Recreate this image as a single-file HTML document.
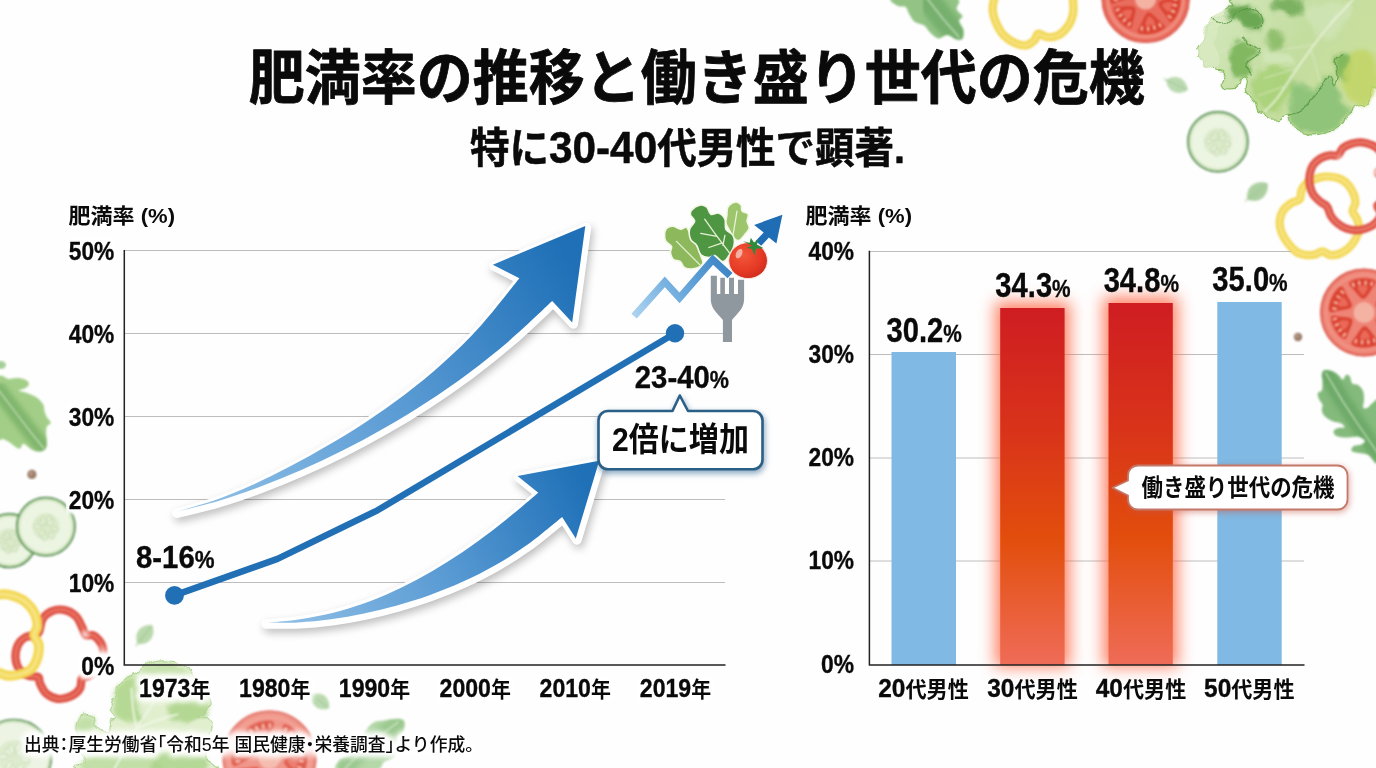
<!DOCTYPE html>
<html lang="ja">
<head>
<meta charset="utf-8">
<title>肥満率の推移と働き盛り世代の危機</title>
<style>
html,body{margin:0;padding:0;background:#fefefe;}
body{width:1376px;height:768px;overflow:hidden;position:relative;font-family:"Liberation Sans","Noto Sans CJK JP",sans-serif;}
svg{position:absolute;left:0;top:0;display:block;}
text{font-family:"Liberation Sans","Noto Sans CJK JP",sans-serif;fill:#0a0a0a;}
.b{font-weight:700;}
.m{font-weight:700;}
.ax{font-weight:700;font-size:22px;}
.ax tspan,.vl{stroke:#0a0a0a;stroke-width:0.35px;}
.ax tspan{font-size:25.5px;}
.grid{stroke:#bdbdbd;stroke-width:1.2;fill:none;}
.axis{stroke:#222;stroke-width:1.5;fill:none;}
</style>
</head>
<body>
<svg width="1376" height="768" viewBox="0 0 1376 768">
<defs>
  <linearGradient id="gRed" x1="0" y1="0" x2="0" y2="1">
    <stop offset="0" stop-color="#cf1d22"/>
    <stop offset="0.35" stop-color="#d9341a"/>
    <stop offset="0.65" stop-color="#e24e0c"/>
    <stop offset="1" stop-color="#ef6c58"/>
  </linearGradient>
  <linearGradient id="gArrowA" gradientUnits="userSpaceOnUse" x1="200" y1="505" x2="570" y2="260">
    <stop offset="0" stop-color="#8fbfe6"/>
    <stop offset="0.5" stop-color="#5a9bd4"/>
    <stop offset="1" stop-color="#1f70b7"/>
  </linearGradient>
  <linearGradient id="gArrowB" gradientUnits="userSpaceOnUse" x1="280" y1="622" x2="585" y2="480">
    <stop offset="0" stop-color="#8fbfe6"/>
    <stop offset="0.5" stop-color="#5a9bd4"/>
    <stop offset="1" stop-color="#1f70b7"/>
  </linearGradient>
  <linearGradient id="gZig" gradientUnits="userSpaceOnUse" x1="634" y1="316" x2="730" y2="262">
    <stop offset="0" stop-color="#acd3f0"/>
    <stop offset="0.5" stop-color="#6aa9dc"/>
    <stop offset="1" stop-color="#3a82c4"/>
  </linearGradient>
  <radialGradient id="gTom" cx="0.38" cy="0.35" r="0.75">
    <stop offset="0" stop-color="#f2573a"/>
    <stop offset="0.6" stop-color="#e63a25"/>
    <stop offset="1" stop-color="#c72a1c"/>
  </radialGradient>
  <filter id="sh" color-interpolation-filters="sRGB" x="-20%" y="-20%" width="140%" height="140%">
    <feGaussianBlur in="SourceAlpha" stdDeviation="4"/>
    <feOffset dx="2" dy="4" result="o"/>
    <feComponentTransfer><feFuncA type="linear" slope="0.26"/></feComponentTransfer>
    <feMerge><feMergeNode/><feMergeNode in="SourceGraphic"/></feMerge>
  </filter>
  <filter id="shB" color-interpolation-filters="sRGB" x="-20%" y="-30%" width="140%" height="170%">
    <feGaussianBlur in="SourceAlpha" stdDeviation="3"/>
    <feOffset dx="1" dy="2.5"/>
    <feColorMatrix type="matrix" values="0 0 0 0 0.22  0 0 0 0 0.42  0 0 0 0 0.6  0 0 0 0.6 0"/>
    <feMerge><feMergeNode/><feMergeNode in="SourceGraphic"/></feMerge>
  </filter>
  <filter id="shR" color-interpolation-filters="sRGB" x="-20%" y="-40%" width="140%" height="190%">
    <feGaussianBlur in="SourceAlpha" stdDeviation="3"/>
    <feOffset dx="0.5" dy="2"/>
    <feColorMatrix type="matrix" values="0 0 0 0 0.78  0 0 0 0 0.35  0 0 0 0 0.28  0 0 0 0.5 0"/>
    <feMerge><feMergeNode/><feMergeNode in="SourceGraphic"/></feMerge>
  </filter>
  <filter id="halo" color-interpolation-filters="sRGB" x="-5%" y="-40%" width="110%" height="180%">
    <feMorphology in="SourceAlpha" operator="dilate" radius="2.5" result="d"/>
    <feGaussianBlur in="d" stdDeviation="2.2" result="b"/>
    <feFlood flood-color="#fff" flood-opacity="1"/>
    <feComposite in2="b" operator="in" result="h"/>
    <feMerge><feMergeNode in="h"/><feMergeNode in="h"/><feMergeNode in="SourceGraphic"/></feMerge>
  </filter>
  <filter id="halo2" color-interpolation-filters="sRGB" x="-5%" y="-60%" width="110%" height="220%">
    <feMorphology in="SourceAlpha" operator="dilate" radius="3" result="d"/>
    <feGaussianBlur in="d" stdDeviation="3.2" result="b"/>
    <feFlood flood-color="#fff" flood-opacity="1"/>
    <feComposite in2="b" operator="in" result="h"/>
    <feMerge><feMergeNode in="h"/><feMergeNode in="h"/><feMergeNode in="SourceGraphic"/></feMerge>
  </filter>
  <filter id="glow" color-interpolation-filters="sRGB" x="-60%" y="-20%" width="220%" height="140%">
    <feGaussianBlur stdDeviation="8"/>
  </filter>
  <filter id="wc" color-interpolation-filters="sRGB" x="-10%" y="-10%" width="120%" height="120%">
    <feGaussianBlur stdDeviation="0.8"/>
  </filter>
  <filter id="wc2" color-interpolation-filters="sRGB" x="-10%" y="-10%" width="120%" height="120%">
    <feGaussianBlur stdDeviation="2.2"/>
  </filter>
  <filter id="rough" color-interpolation-filters="sRGB" x="-5%" y="-5%" width="110%" height="110%">
    <feTurbulence type="fractalNoise" baseFrequency="0.06" numOctaves="2" seed="7" result="n"/>
    <feDisplacementMap in="SourceGraphic" in2="n" scale="12" xChannelSelector="R" yChannelSelector="G"/>
    <feGaussianBlur stdDeviation="0.6"/>
  </filter>
  <radialGradient id="gFade">
    <stop offset="0" stop-color="#fff" stop-opacity="0.75"/>
    <stop offset="1" stop-color="#fff" stop-opacity="0"/>
  </radialGradient>
  <linearGradient id="gLet" gradientUnits="userSpaceOnUse" x1="1200" y1="20" x2="1370" y2="120">
    <stop offset="0" stop-color="#d3e7bb"/>
    <stop offset="0.5" stop-color="#c3dd9f"/>
    <stop offset="1" stop-color="#cde09c"/>
  </linearGradient>
</defs>

<g opacity="1.0" filter="url(#wc)"><clipPath id="c23182"><path d="M894.0 -2.3C884.5 -1.0 895.5 4.3 897.4 5.8C899.4 7.4 903.6 5.6 905.6 7.0C907.5 8.3 907.5 11.4 909.1 14.0C910.6 16.5 912.4 20.2 914.9 22.1C917.4 24.0 921.7 23.8 924.2 25.6C926.7 27.3 927.7 30.4 930.0 32.6C932.3 34.7 935.2 38.0 938.1 38.4C941.0 38.8 944.3 34.7 947.4 34.9C950.5 35.1 954.2 39.0 956.7 39.5C959.3 40.1 961.4 39.9 962.6 38.4C963.7 36.8 964.3 33.1 963.7 30.2C963.1 27.3 959.3 23.3 959.1 20.9C958.9 18.6 962.9 18.2 962.6 16.3C962.2 14.3 958.1 12.4 956.7 9.3C955.4 6.2 964.9 -0.4 954.4 -2.3C944.0 -4.3 903.4 -3.7 894.0 -2.3Z"/></clipPath><path d="M894.0 -2.3C884.5 -1.0 895.5 4.3 897.4 5.8C899.4 7.4 903.6 5.6 905.6 7.0C907.5 8.3 907.5 11.4 909.1 14.0C910.6 16.5 912.4 20.2 914.9 22.1C917.4 24.0 921.7 23.8 924.2 25.6C926.7 27.3 927.7 30.4 930.0 32.6C932.3 34.7 935.2 38.0 938.1 38.4C941.0 38.8 944.3 34.7 947.4 34.9C950.5 35.1 954.2 39.0 956.7 39.5C959.3 40.1 961.4 39.9 962.6 38.4C963.7 36.8 964.3 33.1 963.7 30.2C963.1 27.3 959.3 23.3 959.1 20.9C958.9 18.6 962.9 18.2 962.6 16.3C962.2 14.3 958.1 12.4 956.7 9.3C955.4 6.2 964.9 -0.4 954.4 -2.3C944.0 -4.3 903.4 -3.7 894.0 -2.3Z" fill="#93c486"/><g clip-path="url(#c23182)"><path d="M926.5 -2.3L942.8 18.6L959.1 37.2" fill="none" stroke="#65a45f" stroke-width="23.8" opacity="0.6" filter="url(#wc2)" stroke-linecap="round"/></g><path d="M926.5 -2.3L942.8 18.6L959.1 37.2" fill="none" stroke="#d9ecd0" stroke-width="1.1" stroke-linecap="round" opacity="0.9"/></g>
<g opacity="1.0" filter="url(#wc)"><path d="M994.0 0.0C992.6 4.7 992.4 7.8 992.8 11.6C993.2 15.5 994.5 19.4 996.3 23.3C998.0 27.1 1000.2 31.6 1003.3 34.9C1006.4 38.2 1011.0 41.3 1014.9 43.0C1018.8 44.8 1023.2 45.9 1026.5 45.3C1029.8 44.8 1032.7 41.9 1034.7 40.0C1036.6 38.1 1036.0 34.2 1038.1 33.7C1040.3 33.3 1044.0 37.0 1047.4 37.2C1050.9 37.4 1055.6 36.8 1059.1 34.9C1062.6 32.9 1066.0 29.1 1068.4 25.6C1070.7 22.1 1072.2 18.2 1073.0 14.0C1073.8 9.7 1073.4 4.7 1073.0 0.0C1072.6 -4.7 1073.4 -9.7 1070.7 -14.0C1068.0 -18.2 1062.2 -23.3 1056.7 -25.6C1051.3 -27.9 1044.3 -27.9 1038.1 -27.9C1031.9 -27.9 1025.7 -27.5 1019.5 -25.6C1013.3 -23.6 1005.2 -20.5 1000.9 -16.3C996.7 -12.0 995.3 -4.7 994.0 0.0Z" fill="none" stroke="#f1d44c" stroke-width="8.2" stroke-linejoin="round"/><path d="M994.0 0.0C992.6 4.7 992.4 7.8 992.8 11.6C993.2 15.5 994.5 19.4 996.3 23.3C998.0 27.1 1000.2 31.6 1003.3 34.9C1006.4 38.2 1011.0 41.3 1014.9 43.0C1018.8 44.8 1023.2 45.9 1026.5 45.3C1029.8 44.8 1032.7 41.9 1034.7 40.0C1036.6 38.1 1036.0 34.2 1038.1 33.7C1040.3 33.3 1044.0 37.0 1047.4 37.2C1050.9 37.4 1055.6 36.8 1059.1 34.9C1062.6 32.9 1066.0 29.1 1068.4 25.6C1070.7 22.1 1072.2 18.2 1073.0 14.0C1073.8 9.7 1073.4 4.7 1073.0 0.0C1072.6 -4.7 1073.4 -9.7 1070.7 -14.0C1068.0 -18.2 1062.2 -23.3 1056.7 -25.6C1051.3 -27.9 1044.3 -27.9 1038.1 -27.9C1031.9 -27.9 1025.7 -27.5 1019.5 -25.6C1013.3 -23.6 1005.2 -20.5 1000.9 -16.3C996.7 -12.0 995.3 -4.7 994.0 0.0Z" fill="none" stroke="#f9ea98" stroke-width="3.4" stroke-linejoin="round" opacity="0.65"/></g>
<g opacity="1.0" filter="url(#wc)"><circle cx="1145.6" cy="-1" r="44" fill="#e96d5e"/><circle cx="1145.6" cy="-1" r="43.2" fill="none" stroke="#dc5c50" stroke-width="1.8"/><circle cx="1145.6" cy="-1" r="37.8" fill="none" stroke="#f19485" stroke-width="3.5" opacity="0.8"/><path d="M1160.3 1.6C1162.2 0.3 1166.8 -0.9 1169.9 -1.9C1173.1 -2.9 1177.5 -5.4 1179.2 -4.4C1180.9 -3.3 1180.7 1.0 1180.3 4.3C1179.9 7.6 1178.3 12.5 1176.6 15.4C1175.0 18.3 1172.6 21.9 1170.6 21.7C1168.6 21.5 1166.6 16.9 1164.6 14.2C1162.7 11.5 1159.7 7.8 1159.0 5.7C1158.3 3.6 1158.5 2.8 1160.3 1.6Z" fill="#da4231"/><path d="M1163.6 3.3C1165.1 2.7 1170.9 1.0 1171.8 2.4C1172.6 3.8 1170.2 11.2 1168.7 11.8C1167.1 12.5 1163.5 7.7 1162.6 6.2C1161.8 4.8 1162.0 3.9 1163.6 3.3Z" fill="#ec7060" opacity="0.85"/><ellipse cx="1175.5" cy="-0.9" rx="1.3" ry="2.6" fill="#f6b5a2" transform="rotate(90 1175.5 -0.9)"/><ellipse cx="1174.8" cy="5.3" rx="1.3" ry="2.6" fill="#f6b5a2" transform="rotate(102 1174.8 5.3)"/><ellipse cx="1172.9" cy="11.3" rx="1.3" ry="2.6" fill="#f6b5a2" transform="rotate(114 1172.9 11.3)"/><ellipse cx="1169.7" cy="16.7" rx="1.3" ry="2.6" fill="#f6b5a2" transform="rotate(126 1169.7 16.7)"/><path d="M1150.5 13.1C1152.5 14.1 1155.9 17.6 1158.3 19.9C1160.7 22.2 1165.0 24.8 1165.0 26.8C1164.9 28.8 1161.0 30.8 1157.9 32.0C1154.8 33.3 1149.7 34.2 1146.4 34.2C1143.0 34.2 1138.7 33.9 1137.9 32.0C1137.1 30.1 1140.2 26.1 1141.5 23.1C1142.9 20.1 1144.7 15.6 1146.2 13.9C1147.7 12.3 1148.5 12.1 1150.5 13.1Z" fill="#da4231"/><path d="M1150.6 16.8C1151.9 17.8 1156.2 22.1 1155.3 23.5C1154.5 25.0 1146.9 26.4 1145.6 25.4C1144.3 24.4 1146.7 18.8 1147.5 17.4C1148.4 15.9 1149.3 15.8 1150.6 16.8Z" fill="#ec7060" opacity="0.85"/><ellipse cx="1160.0" cy="25.2" rx="1.3" ry="2.6" fill="#f6b5a2" transform="rotate(151 1160.0 25.2)"/><ellipse cx="1154.3" cy="27.6" rx="1.3" ry="2.6" fill="#f6b5a2" transform="rotate(163 1154.3 27.6)"/><ellipse cx="1148.1" cy="28.8" rx="1.3" ry="2.6" fill="#f6b5a2" transform="rotate(175 1148.1 28.8)"/><ellipse cx="1141.9" cy="28.7" rx="1.3" ry="2.6" fill="#f6b5a2" transform="rotate(187 1141.9 28.7)"/><path d="M1135.5 10.0C1135.6 12.2 1134.3 16.5 1133.5 19.5C1132.7 22.6 1132.5 27.3 1130.8 28.2C1129.1 29.0 1125.6 26.6 1123.1 24.5C1120.7 22.5 1117.5 18.6 1116.0 15.7C1114.5 12.9 1112.9 9.0 1114.0 7.5C1115.2 6.0 1119.9 6.8 1123.0 6.6C1126.1 6.5 1130.7 6.1 1132.7 6.6C1134.8 7.2 1135.4 7.9 1135.5 10.0Z" fill="#da4231"/><path d="M1132.3 11.8C1132.0 13.4 1130.2 19.2 1128.6 19.2C1126.9 19.1 1122.1 13.1 1122.4 11.5C1122.6 9.9 1128.7 9.4 1130.3 9.4C1132.0 9.5 1132.6 10.2 1132.3 11.8Z" fill="#ec7060" opacity="0.85"/><ellipse cx="1129.3" cy="24.1" rx="1.3" ry="2.6" fill="#f6b5a2" transform="rotate(213 1129.3 24.1)"/><ellipse cx="1124.5" cy="20.2" rx="1.3" ry="2.6" fill="#f6b5a2" transform="rotate(225 1124.5 20.2)"/><ellipse cx="1120.5" cy="15.3" rx="1.3" ry="2.6" fill="#f6b5a2" transform="rotate(237 1120.5 15.3)"/><ellipse cx="1117.7" cy="9.8" rx="1.3" ry="2.6" fill="#f6b5a2" transform="rotate(249 1117.7 9.8)"/><path d="M1130.8 -3.2C1128.9 -1.8 1124.2 -0.5 1121.0 0.6C1117.7 1.7 1113.3 4.4 1111.5 3.4C1109.7 2.4 1109.8 -2.1 1110.1 -5.4C1110.4 -8.8 1112.0 -13.9 1113.5 -16.9C1115.1 -19.9 1117.5 -23.6 1119.5 -23.4C1121.6 -23.3 1123.8 -18.6 1125.9 -15.9C1128.0 -13.2 1131.2 -9.5 1132.1 -7.3C1132.9 -5.2 1132.6 -4.5 1130.8 -3.2Z" fill="#da4231"/><path d="M1127.5 -4.8C1126.0 -4.1 1120.2 -2.3 1119.3 -3.7C1118.5 -5.1 1120.7 -12.5 1122.2 -13.2C1123.7 -13.9 1127.5 -9.2 1128.4 -7.8C1129.3 -6.4 1129.0 -5.5 1127.5 -4.8Z" fill="#ec7060" opacity="0.85"/><ellipse cx="1115.7" cy="-0.3" rx="1.3" ry="2.6" fill="#f6b5a2" transform="rotate(269 1115.7 -0.3)"/><ellipse cx="1116.2" cy="-6.6" rx="1.3" ry="2.6" fill="#f6b5a2" transform="rotate(281 1116.2 -6.6)"/><ellipse cx="1118.0" cy="-12.5" rx="1.3" ry="2.6" fill="#f6b5a2" transform="rotate(293 1118.0 -12.5)"/><ellipse cx="1121.0" cy="-18.0" rx="1.3" ry="2.6" fill="#f6b5a2" transform="rotate(305 1121.0 -18.0)"/><path d="M1140.5 -15.1C1138.5 -16.0 1135.2 -19.2 1132.9 -21.4C1130.5 -23.5 1126.3 -25.9 1126.3 -27.9C1126.4 -29.8 1130.2 -31.8 1133.2 -33.1C1136.2 -34.3 1141.1 -35.3 1144.4 -35.4C1147.7 -35.4 1151.9 -35.1 1152.7 -33.3C1153.5 -31.5 1150.6 -27.6 1149.3 -24.7C1148.0 -21.8 1146.2 -17.5 1144.8 -15.9C1143.3 -14.3 1142.5 -14.2 1140.5 -15.1Z" fill="#da4231"/><path d="M1140.4 -18.7C1139.1 -19.7 1134.7 -24.0 1135.5 -25.4C1136.3 -26.9 1143.9 -28.4 1145.2 -27.4C1146.5 -26.4 1144.2 -20.8 1143.4 -19.3C1142.6 -17.9 1141.7 -17.7 1140.4 -18.7Z" fill="#ec7060" opacity="0.85"/><ellipse cx="1130.8" cy="-27.0" rx="1.3" ry="2.6" fill="#f6b5a2" transform="rotate(330 1130.8 -27.0)"/><ellipse cx="1136.6" cy="-29.5" rx="1.3" ry="2.6" fill="#f6b5a2" transform="rotate(342 1136.6 -29.5)"/><ellipse cx="1142.7" cy="-30.8" rx="1.3" ry="2.6" fill="#f6b5a2" transform="rotate(354 1142.7 -30.8)"/><ellipse cx="1148.9" cy="-30.7" rx="1.3" ry="2.6" fill="#f6b5a2" transform="rotate(366 1148.9 -30.7)"/><path d="M1156.2 -11.6C1156.2 -13.8 1157.9 -18.2 1158.8 -21.3C1159.8 -24.5 1160.3 -29.4 1162.1 -30.3C1164.0 -31.1 1167.4 -28.4 1169.8 -26.2C1172.2 -24.0 1175.3 -19.8 1176.7 -16.8C1178.2 -13.8 1179.7 -9.8 1178.4 -8.3C1177.1 -6.8 1172.2 -7.8 1168.9 -7.7C1165.7 -7.7 1160.9 -7.4 1158.8 -8.1C1156.7 -8.7 1156.2 -9.4 1156.2 -11.6Z" fill="#da4231"/><path d="M1159.5 -13.2C1159.8 -14.8 1161.8 -20.5 1163.5 -20.4C1165.1 -20.3 1169.7 -14.1 1169.4 -12.5C1169.0 -10.8 1163.0 -10.6 1161.3 -10.7C1159.7 -10.8 1159.1 -11.6 1159.5 -13.2Z" fill="#ec7060" opacity="0.85"/><ellipse cx="1163.0" cy="-25.4" rx="1.3" ry="2.6" fill="#f6b5a2" transform="rotate(395 1163.0 -25.4)"/><ellipse cx="1167.6" cy="-21.2" rx="1.3" ry="2.6" fill="#f6b5a2" transform="rotate(407 1167.6 -21.2)"/><ellipse cx="1171.4" cy="-16.2" rx="1.3" ry="2.6" fill="#f6b5a2" transform="rotate(419 1171.4 -16.2)"/><ellipse cx="1174.0" cy="-10.5" rx="1.3" ry="2.6" fill="#f6b5a2" transform="rotate(431 1174.0 -10.5)"/><circle cx="1145.6" cy="-1" r="10.6" fill="#f4b2a3"/></g>
<g filter="url(#rough)"><path d="M1240.5 -3.9C1215.7 -2.6 1236.7 2.3 1234.6 3.9C1232.5 5.5 1229.5 4.7 1227.8 5.5C1226.0 6.3 1224.7 7.3 1223.9 8.8C1223.0 10.3 1223.9 13.2 1222.9 14.6C1221.9 16.1 1219.8 17.2 1218.0 17.6C1216.2 18.0 1213.4 16.7 1212.1 17.2C1210.8 17.7 1210.0 19.3 1210.2 20.5C1210.3 21.7 1213.6 23.4 1213.1 24.4C1212.6 25.4 1208.6 25.1 1207.2 26.4C1205.9 27.7 1206.3 30.1 1205.3 32.2C1204.3 34.3 1202.6 36.8 1201.4 39.1C1200.2 41.3 1198.2 43.6 1197.9 45.9C1197.5 48.2 1199.2 50.6 1199.4 52.7C1199.6 54.9 1198.4 56.6 1199.0 58.6C1199.7 60.5 1201.5 63.0 1203.3 64.5C1205.2 65.9 1208.4 66.4 1210.2 67.4C1212.0 68.4 1212.3 69.7 1214.1 70.3C1215.9 71.0 1219.1 70.3 1220.9 71.3C1222.7 72.3 1224.5 74.4 1224.8 76.2C1225.2 78.0 1222.7 80.2 1222.9 82.0C1223.0 83.8 1224.2 85.8 1225.8 86.9C1227.4 88.1 1230.6 89.0 1232.6 88.9C1234.7 88.7 1237.0 87.4 1238.1 85.9C1239.2 84.5 1238.6 81.4 1239.5 80.1C1240.4 78.8 1242.2 77.8 1243.4 78.1C1244.5 78.5 1246.0 80.2 1246.3 82.0C1246.6 83.8 1244.8 86.9 1245.3 88.9C1245.8 90.8 1248.1 92.0 1249.2 93.8C1250.4 95.5 1251.2 97.5 1252.2 99.6C1253.1 101.7 1254.1 104.5 1255.1 106.4C1256.1 108.4 1256.6 110.2 1258.0 111.3C1259.5 112.5 1262.4 112.3 1263.9 113.3C1265.4 114.3 1265.2 116.2 1266.8 117.2C1268.4 118.2 1271.4 119.0 1273.7 119.1C1275.9 119.3 1278.5 118.8 1280.5 118.2C1282.4 117.5 1283.9 115.9 1285.4 115.2C1286.8 114.6 1288.3 113.3 1289.3 114.3C1290.3 115.2 1290.3 119.0 1291.2 121.1C1292.2 123.2 1293.5 125.5 1295.1 127.0C1296.8 128.4 1299.4 128.7 1301.0 129.9C1302.6 131.0 1303.0 133.0 1304.9 133.8C1306.9 134.6 1310.1 134.8 1312.7 134.8C1315.3 134.8 1318.3 134.4 1320.5 133.8C1322.8 133.1 1324.4 131.5 1326.4 130.9C1328.3 130.2 1330.3 130.9 1332.2 129.9C1334.2 128.9 1336.0 126.3 1338.1 125.0C1340.2 123.7 1343.3 123.4 1344.9 122.1C1346.6 120.8 1347.2 119.1 1347.9 117.2C1348.5 115.2 1348.0 112.1 1348.9 110.4C1349.7 108.6 1351.1 107.4 1352.8 106.4C1354.4 105.5 1356.7 104.7 1358.6 104.5C1360.6 104.3 1362.5 105.8 1364.5 105.5C1366.4 105.1 1369.2 104.0 1370.3 102.5C1371.5 101.1 1371.5 98.5 1371.3 96.7C1371.1 94.9 1369.0 93.1 1369.4 91.8C1369.7 90.5 1371.6 89.5 1373.3 88.9C1374.9 88.2 1377.5 92.9 1379.1 87.9C1380.8 82.8 1382.4 73.9 1383.0 58.6C1383.7 43.3 1406.8 6.5 1383.0 -3.9C1359.3 -14.3 1265.2 -5.2 1240.5 -3.9Z" fill="url(#gLet)" stroke="#8abf62" stroke-width="1.2"/><path d="M1224.8 5.9C1222.2 5.6 1214.4 14.4 1211.2 18.0C1207.9 21.5 1207.4 22.9 1205.3 27.3C1203.2 31.8 1199.3 39.1 1198.5 44.9C1197.6 50.8 1198.0 58.6 1200.4 62.5C1202.9 66.4 1209.7 69.0 1213.1 68.4C1216.5 67.7 1220.6 62.5 1220.9 58.6C1221.2 54.7 1215.4 49.8 1215.1 44.9C1214.7 40.0 1217.0 33.5 1219.0 29.3C1220.9 25.1 1225.8 23.4 1226.8 19.5C1227.8 15.6 1227.4 6.1 1224.8 5.9Z" fill="#d9eac2" opacity="0.85"/><g filter="url(#wc2)"><path d="M1226.8 7.8C1228.7 5.5 1235.9 3.6 1240.5 3.9C1245.0 4.2 1250.7 7.2 1254.1 9.8C1257.5 12.4 1260.1 16.3 1261.0 19.5C1261.8 22.8 1261.1 27.7 1259.0 29.3C1256.9 30.9 1251.7 30.6 1248.3 29.3C1244.8 28.0 1241.8 23.4 1238.5 21.5C1235.2 19.5 1230.7 19.9 1228.7 17.6C1226.8 15.3 1224.8 10.1 1226.8 7.8Z" fill="#5b9d43" opacity="0.85"/><path d="M1234.6 43.0C1237.5 39.7 1243.1 38.1 1246.3 39.1C1249.6 40.0 1251.8 46.5 1254.1 48.8C1256.4 51.1 1260.6 50.8 1260.0 52.7C1259.3 54.7 1252.2 57.0 1250.2 60.5C1248.3 64.1 1249.9 71.3 1248.3 74.2C1246.6 77.1 1243.1 78.5 1240.5 78.1C1237.8 77.8 1234.6 75.5 1232.6 72.3C1230.7 69.0 1228.4 63.5 1228.7 58.6C1229.1 53.7 1231.7 46.2 1234.6 43.0Z" fill="#74b052" opacity="0.85"/><path d="M1267.8 33.2C1269.8 30.9 1278.2 31.9 1281.5 33.2C1284.7 34.5 1287.3 38.4 1287.3 41.0C1287.3 43.6 1284.4 47.9 1281.5 48.8C1278.5 49.8 1272.0 49.5 1269.8 46.9C1267.5 44.3 1265.8 35.5 1267.8 33.2Z" fill="#79b257" opacity="0.7"/><path d="M1254.1 78.1C1258.4 73.2 1271.1 65.1 1277.6 64.5C1284.1 63.8 1291.2 69.7 1293.2 74.2C1295.1 78.8 1291.9 85.9 1289.3 91.8C1286.7 97.7 1282.1 106.4 1277.6 109.4C1273.0 112.3 1266.2 112.0 1261.9 109.4C1257.7 106.8 1253.5 99.0 1252.2 93.8C1250.9 88.5 1249.9 83.0 1254.1 78.1Z" fill="#a3cf6e" opacity="0.7"/><path d="M1293.2 82.0C1296.8 77.8 1307.2 93.1 1312.7 91.8C1318.3 90.5 1322.8 75.8 1326.4 74.2C1330.0 72.6 1331.6 77.5 1334.2 82.0C1336.8 86.6 1339.7 96.4 1342.0 101.6C1344.3 106.8 1348.9 109.0 1347.9 113.3C1346.9 117.5 1341.4 123.7 1336.2 127.0C1330.9 130.2 1322.5 132.5 1316.6 132.8C1310.8 133.1 1305.2 131.5 1301.0 128.9C1296.8 126.3 1292.5 125.0 1291.2 117.2C1289.9 109.4 1289.6 86.3 1293.2 82.0Z" fill="#86bf74" opacity="0.85"/><path d="M1336.2 54.7C1337.5 50.5 1343.3 51.1 1345.9 52.7C1348.5 54.4 1351.5 59.6 1351.8 64.5C1352.1 69.3 1350.2 79.8 1347.9 82.0C1345.6 84.3 1340.1 82.7 1338.1 78.1C1336.2 73.6 1334.9 58.9 1336.2 54.7Z" fill="#6fae4c" opacity="0.8"/><path d="M1347.9 58.6C1351.5 53.7 1358.6 47.9 1363.5 48.8C1368.4 49.8 1374.9 57.9 1377.2 64.5C1379.5 71.0 1378.5 81.4 1377.2 87.9C1375.9 94.4 1372.9 100.9 1369.4 103.5C1365.8 106.1 1359.9 105.5 1355.7 103.5C1351.5 101.6 1346.2 96.0 1344.0 91.8C1341.7 87.6 1341.4 83.7 1342.0 78.1C1342.7 72.6 1344.3 63.5 1347.9 58.6Z" fill="#c2d566" opacity="0.85"/><path d="M1273.7 0.0C1278.2 -1.3 1296.4 -2.0 1301.0 0.0C1305.6 2.0 1302.3 8.8 1301.0 11.7C1299.7 14.6 1295.8 17.6 1293.2 17.6C1290.6 17.6 1288.6 13.3 1285.4 11.7C1282.1 10.1 1275.6 9.8 1273.7 7.8C1271.7 5.9 1269.1 1.3 1273.7 0.0Z" fill="#5b9d43" opacity="0.7"/><path d="M1312.7 3.9C1319.2 1.6 1337.5 0.7 1344.0 2.0C1350.5 3.3 1351.8 7.5 1351.8 11.7C1351.8 16.0 1347.9 22.8 1344.0 27.3C1340.1 31.9 1333.6 38.4 1328.3 39.1C1323.1 39.7 1316.6 35.2 1312.7 31.2C1308.8 27.3 1304.9 20.2 1304.9 15.6C1304.9 11.1 1306.2 6.2 1312.7 3.9Z" fill="#cfe4b4" opacity="0.85"/><path d="M1263.9 50.8C1267.8 49.8 1280.5 52.4 1285.4 54.7C1290.3 57.0 1294.5 62.5 1293.2 64.5C1291.9 66.4 1282.8 67.1 1277.6 66.4C1272.4 65.8 1264.2 63.2 1261.9 60.5C1259.7 57.9 1260.0 51.8 1263.9 50.8Z" fill="#d3e7ba" opacity="0.8"/></g><path d="M1211.2 18.6C1211.8 19.4 1212.8 22.8 1215.1 23.4C1217.3 24.1 1220.9 24.1 1224.8 22.5C1228.7 20.8 1233.6 16.0 1238.5 13.7C1243.4 11.4 1250.5 8.1 1254.1 8.8C1257.7 9.4 1259.0 14.6 1260.0 17.6C1261.0 20.5 1261.0 24.4 1260.0 26.4C1259.0 28.3 1255.1 28.8 1254.1 29.3" fill="none" stroke="#4e923a" stroke-width="1.2" stroke-linecap="round" opacity="0.75"/><path d="M1244.4 35.2C1245.3 36.5 1248.3 40.7 1250.2 43.0C1252.2 45.2 1254.3 47.4 1256.1 48.8C1257.9 50.3 1261.0 50.5 1261.0 51.8C1261.0 53.1 1258.2 54.9 1256.1 56.6C1254.0 58.4 1249.9 59.9 1248.3 62.5C1246.6 65.1 1246.1 69.8 1246.3 72.3C1246.5 74.7 1248.8 76.3 1249.2 77.1" fill="none" stroke="#4e923a" stroke-width="1.2" stroke-linecap="round" opacity="0.75"/><path d="M1326.4 74.2C1327.0 74.9 1329.0 76.2 1330.3 78.1C1331.6 80.1 1332.9 85.9 1334.2 85.9C1335.5 85.9 1337.8 82.7 1338.1 78.1C1338.4 73.6 1335.5 62.8 1336.2 58.6C1336.8 54.4 1341.0 53.7 1342.0 52.7" fill="none" stroke="#4e923a" stroke-width="1.2" stroke-linecap="round" opacity="0.75"/><path d="M1289.3 115.2C1291.2 114.6 1297.4 113.6 1301.0 111.3C1304.6 109.0 1308.2 104.5 1310.8 101.6C1313.4 98.6 1314.0 98.0 1316.6 93.8C1319.2 89.5 1324.8 79.1 1326.4 76.2" fill="none" stroke="#4e923a" stroke-width="1.2" stroke-linecap="round" opacity="0.75"/></g><g filter="url(#wc)"><path d="M1352.8 0.0C1348.0 5.2 1333.7 19.9 1324.4 31.2C1315.2 42.6 1304.9 57.3 1297.1 68.4C1289.3 79.4 1283.1 90.3 1277.6 97.7C1272.0 105.0 1266.2 109.9 1263.9 112.3" fill="none" stroke="#e8f2da" stroke-width="1.8" stroke-linecap="round"/><path d="M1312.7 44.9L1281.5 49.8" fill="none" stroke="#dcebc8" stroke-width="1" stroke-linecap="round" opacity="0.9"/><path d="M1297.1 68.4L1263.9 78.1" fill="none" stroke="#dcebc8" stroke-width="1" stroke-linecap="round" opacity="0.9"/><path d="M1285.4 85.9L1258.0 95.7" fill="none" stroke="#dcebc8" stroke-width="1" stroke-linecap="round" opacity="0.9"/><path d="M1310.8 48.8L1320.5 82.0" fill="none" stroke="#dcebc8" stroke-width="1" stroke-linecap="round" opacity="0.9"/><path d="M1244.4 40.0L1211.2 56.6" fill="none" stroke="#dcebc8" stroke-width="1" stroke-linecap="round" opacity="0.9"/><path d="M1324.4 31.2L1338.1 11.7" fill="none" stroke="#dcebc8" stroke-width="1" stroke-linecap="round" opacity="0.9"/></g>
<g transform="translate(1177 85) rotate(25)" opacity="0.9" filter="url(#wc)"><path d="M-12.0 0C-6.0 -10.5 6.0 -9.8 12.0 0C6.0 9.8 -6.0 10.5 -12.0 0Z" fill="#b4d6a8"/><path d="M-15.0 0H10.0" stroke="#8fbc80" stroke-width="0.8" fill="none"/></g>
<g opacity="1.0" filter="url(#wc)"><circle cx="1217.9" cy="141.7" r="30.0" fill="#ecf4e2" stroke="#44803f" stroke-width="1.5"/><circle cx="1217.9" cy="141.7" r="28.0" fill="none" stroke="#c4ddb0" stroke-width="2" opacity="0.8"/><circle cx="1217.9" cy="141.7" r="13.8" fill="#dceacb"/><ellipse cx="1227.0" cy="144.0" rx="1.8" ry="4.0" fill="#eaf3de" stroke="#b9d4a2" stroke-width="0.8" transform="rotate(104 1227.0 144.0)"/><ellipse cx="1223.5" cy="150.8" rx="1.8" ry="4.0" fill="#eaf3de" stroke="#b9d4a2" stroke-width="0.8" transform="rotate(148 1223.5 150.8)"/><ellipse cx="1216.6" cy="152.2" rx="1.8" ry="4.0" fill="#eaf3de" stroke="#b9d4a2" stroke-width="0.8" transform="rotate(187 1216.6 152.2)"/><ellipse cx="1213.9" cy="148.4" rx="1.8" ry="4.0" fill="#eaf3de" stroke="#b9d4a2" stroke-width="0.8" transform="rotate(211 1213.9 148.4)"/><ellipse cx="1209.0" cy="141.4" rx="1.8" ry="4.0" fill="#eaf3de" stroke="#b9d4a2" stroke-width="0.8" transform="rotate(272 1209.0 141.4)"/><ellipse cx="1213.7" cy="138.1" rx="1.8" ry="4.0" fill="#eaf3de" stroke="#b9d4a2" stroke-width="0.8" transform="rotate(311 1213.7 138.1)"/><ellipse cx="1215.8" cy="135.7" rx="1.8" ry="4.0" fill="#eaf3de" stroke="#b9d4a2" stroke-width="0.8" transform="rotate(341 1215.8 135.7)"/><ellipse cx="1221.1" cy="133.9" rx="1.8" ry="4.0" fill="#eaf3de" stroke="#b9d4a2" stroke-width="0.8" transform="rotate(382 1221.1 133.9)"/><ellipse cx="1222.7" cy="137.7" rx="1.8" ry="4.0" fill="#eaf3de" stroke="#b9d4a2" stroke-width="0.8" transform="rotate(410 1222.7 137.7)"/></g>
<g transform="translate(1257.5 191.5) rotate(-38)" opacity="0.9" filter="url(#wc)"><path d="M-13.0 0C-6.5 -11.2 6.5 -10.5 13.0 0C6.5 10.5 -6.5 11.2 -13.0 0Z" fill="#a5cc98"/><path d="M-16.0 0H11.0" stroke="#8fbc80" stroke-width="0.8" fill="none"/></g>
<g opacity="1.0" filter="url(#wc)"><path d="M1318.9 177.8C1322.2 176.9 1324.7 176.4 1328.0 176.5C1331.4 176.6 1335.6 177.0 1339.0 178.3C1342.3 179.7 1345.7 182.1 1348.1 184.7C1350.5 187.3 1352.3 190.8 1353.6 193.8C1354.8 196.9 1355.5 200.1 1355.4 203.0C1355.2 205.9 1352.3 208.4 1352.6 211.2C1353.0 213.9 1356.1 216.5 1357.2 219.4C1358.3 222.3 1359.3 225.2 1359.0 228.5C1358.7 231.8 1357.2 236.1 1355.4 239.4C1353.6 242.8 1350.8 246.1 1348.1 248.6C1345.4 251.0 1342.0 253.0 1339.0 254.0C1335.9 255.1 1332.6 255.4 1329.8 255.0C1327.1 254.5 1325.0 251.4 1322.5 251.3C1320.1 251.2 1318.0 253.8 1315.3 254.4C1312.5 255.0 1309.2 255.3 1306.1 255.0C1303.1 254.6 1300.1 254.2 1297.0 252.2C1294.0 250.2 1290.5 246.4 1287.9 243.1C1285.3 239.8 1282.9 235.8 1281.5 232.2C1280.1 228.5 1279.4 224.9 1279.7 221.2C1280.0 217.6 1281.4 213.3 1283.3 210.3C1285.3 207.2 1288.8 204.8 1291.5 203.0C1294.3 201.1 1298.1 201.4 1299.7 199.3C1301.4 197.2 1300.2 193.1 1301.6 190.2C1302.9 187.3 1305.1 184.1 1308.0 182.0C1310.8 179.9 1315.6 178.7 1318.9 177.8Z" fill="none" stroke="#f2d650" stroke-width="8.2" stroke-linejoin="round"/><path d="M1318.9 177.8C1322.2 176.9 1324.7 176.4 1328.0 176.5C1331.4 176.6 1335.6 177.0 1339.0 178.3C1342.3 179.7 1345.7 182.1 1348.1 184.7C1350.5 187.3 1352.3 190.8 1353.6 193.8C1354.8 196.9 1355.5 200.1 1355.4 203.0C1355.2 205.9 1352.3 208.4 1352.6 211.2C1353.0 213.9 1356.1 216.5 1357.2 219.4C1358.3 222.3 1359.3 225.2 1359.0 228.5C1358.7 231.8 1357.2 236.1 1355.4 239.4C1353.6 242.8 1350.8 246.1 1348.1 248.6C1345.4 251.0 1342.0 253.0 1339.0 254.0C1335.9 255.1 1332.6 255.4 1329.8 255.0C1327.1 254.5 1325.0 251.4 1322.5 251.3C1320.1 251.2 1318.0 253.8 1315.3 254.4C1312.5 255.0 1309.2 255.3 1306.1 255.0C1303.1 254.6 1300.1 254.2 1297.0 252.2C1294.0 250.2 1290.5 246.4 1287.9 243.1C1285.3 239.8 1282.9 235.8 1281.5 232.2C1280.1 228.5 1279.4 224.9 1279.7 221.2C1280.0 217.6 1281.4 213.3 1283.3 210.3C1285.3 207.2 1288.8 204.8 1291.5 203.0C1294.3 201.1 1298.1 201.4 1299.7 199.3C1301.4 197.2 1300.2 193.1 1301.6 190.2C1302.9 187.3 1305.1 184.1 1308.0 182.0C1310.8 179.9 1315.6 178.7 1318.9 177.8Z" fill="none" stroke="#f9ea98" stroke-width="3.4" stroke-linejoin="round" opacity="0.65"/></g>
<g opacity="1.0" filter="url(#wc)"><path d="M1338.1 155.5C1340.2 154.4 1340.3 150.2 1342.6 148.2C1344.9 146.3 1348.4 144.7 1351.7 143.7C1355.1 142.7 1359.3 142.2 1362.7 142.4C1366.0 142.6 1369.1 143.7 1371.8 145.0C1374.5 146.2 1377.0 147.7 1379.1 150.1C1381.2 152.4 1384.0 156.1 1384.6 159.2C1385.2 162.2 1384.0 166.0 1382.7 168.3C1381.5 170.6 1377.0 171.0 1377.3 172.9C1377.6 174.7 1382.7 176.4 1384.6 179.3C1386.4 182.1 1388.2 186.5 1388.2 190.2C1388.2 193.8 1386.4 198.6 1384.6 201.1C1382.7 203.7 1377.9 203.6 1377.3 205.7C1376.7 207.8 1381.2 211.0 1380.9 213.9C1380.6 216.8 1377.6 220.8 1375.4 223.0C1373.3 225.3 1371.2 226.4 1368.2 227.6C1365.1 228.8 1360.9 230.2 1357.2 230.3C1353.6 230.5 1349.6 229.7 1346.3 228.5C1342.9 227.3 1339.7 225.2 1337.1 223.0C1334.6 220.9 1332.4 218.5 1330.8 215.7C1329.1 213.0 1328.8 208.9 1327.1 206.6C1325.4 204.3 1323.0 204.0 1320.7 202.1C1318.4 200.1 1315.3 197.6 1313.4 194.8C1311.6 191.9 1310.4 188.2 1309.8 184.7C1309.2 181.2 1309.2 177.1 1309.8 173.8C1310.4 170.4 1311.6 167.2 1313.4 164.7C1315.3 162.1 1318.0 159.9 1320.7 158.3C1323.5 156.7 1327.0 155.6 1329.8 155.2C1332.7 154.7 1335.9 156.7 1338.1 155.5Z" fill="none" stroke="#db4a3d" stroke-width="8.0" stroke-linejoin="round"/><path d="M1338.1 155.5C1340.2 154.4 1340.3 150.2 1342.6 148.2C1344.9 146.3 1348.4 144.7 1351.7 143.7C1355.1 142.7 1359.3 142.2 1362.7 142.4C1366.0 142.6 1369.1 143.7 1371.8 145.0C1374.5 146.2 1377.0 147.7 1379.1 150.1C1381.2 152.4 1384.0 156.1 1384.6 159.2C1385.2 162.2 1384.0 166.0 1382.7 168.3C1381.5 170.6 1377.0 171.0 1377.3 172.9C1377.6 174.7 1382.7 176.4 1384.6 179.3C1386.4 182.1 1388.2 186.5 1388.2 190.2C1388.2 193.8 1386.4 198.6 1384.6 201.1C1382.7 203.7 1377.9 203.6 1377.3 205.7C1376.7 207.8 1381.2 211.0 1380.9 213.9C1380.6 216.8 1377.6 220.8 1375.4 223.0C1373.3 225.3 1371.2 226.4 1368.2 227.6C1365.1 228.8 1360.9 230.2 1357.2 230.3C1353.6 230.5 1349.6 229.7 1346.3 228.5C1342.9 227.3 1339.7 225.2 1337.1 223.0C1334.6 220.9 1332.4 218.5 1330.8 215.7C1329.1 213.0 1328.8 208.9 1327.1 206.6C1325.4 204.3 1323.0 204.0 1320.7 202.1C1318.4 200.1 1315.3 197.6 1313.4 194.8C1311.6 191.9 1310.4 188.2 1309.8 184.7C1309.2 181.2 1309.2 177.1 1309.8 173.8C1310.4 170.4 1311.6 167.2 1313.4 164.7C1315.3 162.1 1318.0 159.9 1320.7 158.3C1323.5 156.7 1327.0 155.6 1329.8 155.2C1332.7 154.7 1335.9 156.7 1338.1 155.5Z" fill="none" stroke="#f08c7c" stroke-width="3.4" stroke-linejoin="round" opacity="0.65"/><circle cx="1341.7" cy="161.0" r="7.3" fill="url(#gFade)"/><circle cx="1375.4" cy="172.0" r="8.2" fill="url(#gFade)"/></g>
<g opacity="1.0" filter="url(#wc)"><circle cx="1364" cy="312.5" r="43.8" fill="#ee8476"/><circle cx="1364" cy="312.5" r="43.0" fill="none" stroke="#dc5c50" stroke-width="1.8"/><circle cx="1364" cy="312.5" r="37.7" fill="none" stroke="#f19485" stroke-width="3.5" opacity="0.8"/><path d="M1378.1 317.2C1380.1 316.2 1384.9 315.7 1388.1 315.2C1391.3 314.7 1396.0 312.9 1397.6 314.2C1399.1 315.4 1398.3 319.7 1397.4 322.9C1396.5 326.0 1394.1 330.6 1392.1 333.3C1390.1 335.9 1387.2 339.1 1385.2 338.6C1383.3 338.1 1382.0 333.2 1380.5 330.3C1379.0 327.4 1376.6 323.3 1376.2 321.1C1375.8 318.9 1376.1 318.2 1378.1 317.2Z" fill="#da4231"/><path d="M1381.1 319.4C1382.7 319.0 1388.6 318.2 1389.3 319.8C1389.9 321.3 1386.4 328.2 1384.8 328.6C1383.2 328.9 1380.3 323.7 1379.7 322.2C1379.0 320.6 1379.5 319.8 1381.1 319.4Z" fill="#ec7060" opacity="0.85"/><ellipse cx="1393.4" cy="317.1" rx="1.3" ry="2.6" fill="#f6b5a2" transform="rotate(99 1393.4 317.1)"/><ellipse cx="1391.8" cy="323.1" rx="1.3" ry="2.6" fill="#f6b5a2" transform="rotate(111 1391.8 323.1)"/><ellipse cx="1389.0" cy="328.7" rx="1.3" ry="2.6" fill="#f6b5a2" transform="rotate(123 1389.0 328.7)"/><ellipse cx="1385.1" cy="333.5" rx="1.3" ry="2.6" fill="#f6b5a2" transform="rotate(135 1385.1 333.5)"/><path d="M1366.8 327.1C1368.6 328.4 1371.3 332.3 1373.4 334.9C1375.4 337.5 1379.3 340.8 1378.9 342.8C1378.6 344.7 1374.4 346.1 1371.2 346.8C1368.0 347.6 1362.8 347.8 1359.5 347.3C1356.2 346.8 1352.0 345.8 1351.5 343.8C1351.0 341.9 1354.6 338.4 1356.4 335.6C1358.2 332.8 1360.7 328.7 1362.4 327.3C1364.1 325.9 1364.9 325.9 1366.8 327.1Z" fill="#da4231"/><path d="M1366.3 330.8C1367.4 332.0 1371.0 336.8 1369.9 338.1C1368.9 339.4 1361.2 339.7 1360.1 338.5C1359.0 337.3 1362.2 332.2 1363.2 330.9C1364.2 329.6 1365.1 329.6 1366.3 330.8Z" fill="#ec7060" opacity="0.85"/><ellipse cx="1374.3" cy="340.4" rx="1.3" ry="2.6" fill="#f6b5a2" transform="rotate(160 1374.3 340.4)"/><ellipse cx="1368.3" cy="342.0" rx="1.3" ry="2.6" fill="#f6b5a2" transform="rotate(172 1368.3 342.0)"/><ellipse cx="1362.1" cy="342.2" rx="1.3" ry="2.6" fill="#f6b5a2" transform="rotate(184 1362.1 342.2)"/><ellipse cx="1355.9" cy="341.2" rx="1.3" ry="2.6" fill="#f6b5a2" transform="rotate(196 1355.9 341.2)"/><path d="M1352.4 321.8C1352.2 324.0 1350.3 328.0 1349.0 330.9C1347.8 333.8 1346.9 338.4 1345.1 339.0C1343.3 339.6 1340.2 336.7 1338.1 334.3C1336.0 331.9 1333.4 327.6 1332.4 324.6C1331.3 321.6 1330.3 317.5 1331.7 316.2C1333.0 314.9 1337.6 316.3 1340.6 316.7C1343.7 317.0 1348.2 317.2 1350.2 318.1C1352.2 319.0 1352.6 319.7 1352.4 321.8Z" fill="#da4231"/><path d="M1349.0 323.1C1348.5 324.7 1345.9 330.1 1344.3 329.8C1342.6 329.5 1338.7 322.9 1339.3 321.4C1339.8 319.8 1345.8 320.2 1347.4 320.5C1349.0 320.8 1349.5 321.6 1349.0 323.1Z" fill="#ec7060" opacity="0.85"/><ellipse cx="1344.3" cy="334.8" rx="1.3" ry="2.6" fill="#f6b5a2" transform="rotate(222 1344.3 334.8)"/><ellipse cx="1340.1" cy="330.2" rx="1.3" ry="2.6" fill="#f6b5a2" transform="rotate(234 1340.1 330.2)"/><ellipse cx="1336.9" cy="324.8" rx="1.3" ry="2.6" fill="#f6b5a2" transform="rotate(246 1336.9 324.8)"/><ellipse cx="1334.9" cy="318.9" rx="1.3" ry="2.6" fill="#f6b5a2" transform="rotate(258 1334.9 318.9)"/><path d="M1349.8 308.2C1347.7 309.2 1342.9 309.8 1339.5 310.4C1336.2 311.0 1331.4 313.0 1329.8 311.7C1328.1 310.5 1328.9 306.1 1329.7 302.9C1330.6 299.6 1332.8 294.8 1334.8 292.1C1336.8 289.4 1339.7 286.1 1341.7 286.5C1343.7 287.0 1345.2 292.0 1346.8 294.9C1348.5 297.9 1351.1 302.0 1351.6 304.2C1352.1 306.4 1351.8 307.1 1349.8 308.2Z" fill="#da4231"/><path d="M1346.8 306.1C1345.2 306.5 1339.2 307.4 1338.6 305.9C1337.9 304.4 1341.2 297.5 1342.8 297.0C1344.4 296.6 1347.4 301.8 1348.1 303.3C1348.8 304.8 1348.4 305.6 1346.8 306.1Z" fill="#ec7060" opacity="0.85"/><ellipse cx="1334.5" cy="308.7" rx="1.3" ry="2.6" fill="#f6b5a2" transform="rotate(277 1334.5 308.7)"/><ellipse cx="1335.9" cy="302.7" rx="1.3" ry="2.6" fill="#f6b5a2" transform="rotate(289 1335.9 302.7)"/><ellipse cx="1338.6" cy="297.0" rx="1.3" ry="2.6" fill="#f6b5a2" transform="rotate(301 1338.6 297.0)"/><ellipse cx="1342.3" cy="292.1" rx="1.3" ry="2.6" fill="#f6b5a2" transform="rotate(313 1342.3 292.1)"/><path d="M1361.1 297.9C1359.2 296.7 1356.5 293.0 1354.5 290.6C1352.5 288.1 1348.7 285.1 1349.0 283.2C1349.4 281.3 1353.4 279.9 1356.5 279.1C1359.7 278.3 1364.7 278.0 1367.9 278.5C1371.1 278.9 1375.3 279.9 1375.8 281.8C1376.3 283.6 1372.9 287.0 1371.1 289.7C1369.4 292.3 1367.1 296.3 1365.4 297.7C1363.7 299.0 1362.9 299.1 1361.1 297.9Z" fill="#da4231"/><path d="M1361.5 294.3C1360.4 293.1 1356.7 288.3 1357.7 287.0C1358.7 285.7 1366.4 285.3 1367.6 286.5C1368.7 287.7 1365.6 292.8 1364.6 294.1C1363.6 295.4 1362.6 295.5 1361.5 294.3Z" fill="#ec7060" opacity="0.85"/><ellipse cx="1353.3" cy="284.7" rx="1.3" ry="2.6" fill="#f6b5a2" transform="rotate(339 1353.3 284.7)"/><ellipse cx="1359.3" cy="283.1" rx="1.3" ry="2.6" fill="#f6b5a2" transform="rotate(351 1359.3 283.1)"/><ellipse cx="1365.6" cy="282.8" rx="1.3" ry="2.6" fill="#f6b5a2" transform="rotate(363 1365.6 282.8)"/><ellipse cx="1371.7" cy="283.7" rx="1.3" ry="2.6" fill="#f6b5a2" transform="rotate(375 1371.7 283.7)"/><path d="M1376.0 303.7C1376.3 301.5 1378.6 297.4 1380.1 294.4C1381.5 291.5 1382.7 286.7 1384.6 286.2C1386.5 285.6 1389.5 288.7 1391.6 291.3C1393.6 293.9 1396.0 298.4 1397.0 301.6C1398.0 304.7 1398.9 308.9 1397.4 310.2C1395.9 311.5 1391.2 309.8 1388.0 309.3C1384.7 308.9 1380.0 308.5 1378.0 307.5C1376.0 306.6 1375.7 305.9 1376.0 303.7Z" fill="#da4231"/><path d="M1379.5 302.5C1380.1 301.0 1382.9 295.7 1384.5 296.1C1386.1 296.4 1389.7 303.2 1389.1 304.8C1388.5 306.3 1382.5 305.6 1380.9 305.3C1379.3 304.9 1378.9 304.1 1379.5 302.5Z" fill="#ec7060" opacity="0.85"/><ellipse cx="1384.7" cy="291.1" rx="1.3" ry="2.6" fill="#f6b5a2" transform="rotate(404 1384.7 291.1)"/><ellipse cx="1388.7" cy="295.9" rx="1.3" ry="2.6" fill="#f6b5a2" transform="rotate(416 1388.7 295.9)"/><ellipse cx="1391.6" cy="301.4" rx="1.3" ry="2.6" fill="#f6b5a2" transform="rotate(428 1391.6 301.4)"/><ellipse cx="1393.3" cy="307.4" rx="1.3" ry="2.6" fill="#f6b5a2" transform="rotate(440 1393.3 307.4)"/><circle cx="1364" cy="312.5" r="10.5" fill="#f4b2a3"/></g>
<g filter="url(#wc)"><circle cx="1298" cy="337" r="4.2" fill="#9a7a68"/><circle cx="1297.2" cy="336.2" r="1.9" fill="#b79a88"/></g>
<g opacity="1.0" filter="url(#wc)"><clipPath id="c21871"><path d="M1324.1 370.3C1325.8 369.7 1329.6 370.3 1331.9 371.1C1334.3 371.9 1336.4 373.6 1338.2 375.0C1340.0 376.4 1341.6 379.7 1342.9 379.7C1344.2 379.7 1344.8 375.5 1346.0 375.0C1347.2 374.5 1348.9 375.1 1349.9 376.6C1350.9 378.0 1350.8 382.2 1352.2 383.6C1353.7 385.0 1356.7 383.9 1358.5 385.2C1360.3 386.5 1362.3 388.9 1363.2 391.4C1364.1 393.9 1364.0 397.3 1364.0 400.0C1364.0 402.7 1362.5 406.5 1363.2 407.8C1363.8 409.1 1366.3 408.6 1367.9 407.8C1369.4 407.0 1370.7 403.8 1372.6 403.1C1374.4 402.5 1377.8 394.3 1378.8 403.9C1379.9 413.5 1380.6 452.5 1378.8 460.9C1377.0 469.4 1371.3 456.0 1367.9 454.7C1364.5 453.4 1361.2 453.8 1358.5 453.1C1355.8 452.5 1352.2 452.0 1351.5 450.8C1350.7 449.6 1352.1 447.1 1353.8 446.1C1355.5 445.1 1359.8 445.4 1361.6 444.5C1363.4 443.6 1365.3 441.9 1364.8 440.6C1364.2 439.3 1361.4 437.2 1358.5 436.7C1355.6 436.2 1351.2 437.6 1347.6 437.5C1343.9 437.4 1339.0 437.0 1336.6 435.9C1334.3 434.9 1333.2 432.6 1333.5 431.2C1333.8 429.9 1336.4 428.8 1338.2 428.1C1340.0 427.5 1343.9 428.1 1344.4 427.3C1345.0 426.6 1343.4 424.5 1341.3 423.4C1339.2 422.4 1334.8 422.4 1331.9 421.1C1329.1 419.8 1325.8 417.6 1324.1 415.6C1322.4 413.7 1322.0 411.2 1321.8 409.4C1321.5 407.6 1323.1 406.5 1322.6 404.7C1322.0 402.9 1319.4 400.4 1318.7 398.4C1317.9 396.5 1317.4 394.3 1317.9 393.0C1318.4 391.7 1321.0 392.6 1321.8 390.6C1322.6 388.7 1322.6 383.9 1322.6 381.2C1322.6 378.6 1321.5 376.8 1321.8 375.0C1322.0 373.2 1322.4 371.0 1324.1 370.3Z"/></clipPath><path d="M1324.1 370.3C1325.8 369.7 1329.6 370.3 1331.9 371.1C1334.3 371.9 1336.4 373.6 1338.2 375.0C1340.0 376.4 1341.6 379.7 1342.9 379.7C1344.2 379.7 1344.8 375.5 1346.0 375.0C1347.2 374.5 1348.9 375.1 1349.9 376.6C1350.9 378.0 1350.8 382.2 1352.2 383.6C1353.7 385.0 1356.7 383.9 1358.5 385.2C1360.3 386.5 1362.3 388.9 1363.2 391.4C1364.1 393.9 1364.0 397.3 1364.0 400.0C1364.0 402.7 1362.5 406.5 1363.2 407.8C1363.8 409.1 1366.3 408.6 1367.9 407.8C1369.4 407.0 1370.7 403.8 1372.6 403.1C1374.4 402.5 1377.8 394.3 1378.8 403.9C1379.9 413.5 1380.6 452.5 1378.8 460.9C1377.0 469.4 1371.3 456.0 1367.9 454.7C1364.5 453.4 1361.2 453.8 1358.5 453.1C1355.8 452.5 1352.2 452.0 1351.5 450.8C1350.7 449.6 1352.1 447.1 1353.8 446.1C1355.5 445.1 1359.8 445.4 1361.6 444.5C1363.4 443.6 1365.3 441.9 1364.8 440.6C1364.2 439.3 1361.4 437.2 1358.5 436.7C1355.6 436.2 1351.2 437.6 1347.6 437.5C1343.9 437.4 1339.0 437.0 1336.6 435.9C1334.3 434.9 1333.2 432.6 1333.5 431.2C1333.8 429.9 1336.4 428.8 1338.2 428.1C1340.0 427.5 1343.9 428.1 1344.4 427.3C1345.0 426.6 1343.4 424.5 1341.3 423.4C1339.2 422.4 1334.8 422.4 1331.9 421.1C1329.1 419.8 1325.8 417.6 1324.1 415.6C1322.4 413.7 1322.0 411.2 1321.8 409.4C1321.5 407.6 1323.1 406.5 1322.6 404.7C1322.0 402.9 1319.4 400.4 1318.7 398.4C1317.9 396.5 1317.4 394.3 1317.9 393.0C1318.4 391.7 1321.0 392.6 1321.8 390.6C1322.6 388.7 1322.6 383.9 1322.6 381.2C1322.6 378.6 1321.5 376.8 1321.8 375.0C1322.0 373.2 1322.4 371.0 1324.1 370.3Z" fill="#84ba7c"/><g clip-path="url(#c21871)"><path d="M1325.7 372.7L1342.9 401.6L1358.5 425.0L1378.8 454.7" fill="none" stroke="#5f9f5c" stroke-width="16.0" opacity="0.6" filter="url(#wc2)" stroke-linecap="round"/></g><path d="M1325.7 372.7L1342.9 401.6L1358.5 425.0L1378.8 454.7" fill="none" stroke="#d9ecd0" stroke-width="1.1" stroke-linecap="round" opacity="0.9"/></g>
<g opacity="1.0" filter="url(#wc)"><clipPath id="c60633"><path d="M-3.1 379.7C-1.0 370.3 5.7 379.2 9.4 378.9C13.0 378.6 15.9 377.9 18.8 378.1C21.6 378.4 24.9 379.4 26.6 380.5C28.3 381.5 29.2 383.1 28.9 384.4C28.6 385.7 26.7 387.2 25.0 388.3C23.3 389.3 18.5 389.8 18.8 390.6C19.0 391.4 23.7 391.9 26.6 393.0C29.4 394.0 33.2 395.1 35.9 396.9C38.7 398.7 41.5 401.6 43.0 403.9C44.4 406.2 43.9 408.7 44.5 410.9C45.2 413.2 45.8 415.2 46.9 417.2C47.9 419.1 50.8 421.1 50.8 422.7C50.8 424.2 47.7 424.9 46.9 426.6C46.1 428.3 46.1 429.9 46.1 432.8C46.1 435.7 47.1 440.9 46.9 443.8C46.6 446.6 46.1 448.7 44.5 450.0C43.0 451.3 39.7 451.7 37.5 451.6C35.3 451.4 33.6 450.5 31.2 449.2C28.9 447.9 25.3 443.9 23.4 443.8C21.6 443.6 21.6 447.9 20.3 448.4C19.0 449.0 17.4 447.9 15.6 446.9C13.8 445.8 11.5 443.5 9.4 442.2C7.3 440.9 5.2 440.2 3.1 439.1C1.0 437.9 -2.1 445.1 -3.1 435.2C-4.2 425.3 -5.2 389.1 -3.1 379.7Z"/></clipPath><path d="M-3.1 379.7C-1.0 370.3 5.7 379.2 9.4 378.9C13.0 378.6 15.9 377.9 18.8 378.1C21.6 378.4 24.9 379.4 26.6 380.5C28.3 381.5 29.2 383.1 28.9 384.4C28.6 385.7 26.7 387.2 25.0 388.3C23.3 389.3 18.5 389.8 18.8 390.6C19.0 391.4 23.7 391.9 26.6 393.0C29.4 394.0 33.2 395.1 35.9 396.9C38.7 398.7 41.5 401.6 43.0 403.9C44.4 406.2 43.9 408.7 44.5 410.9C45.2 413.2 45.8 415.2 46.9 417.2C47.9 419.1 50.8 421.1 50.8 422.7C50.8 424.2 47.7 424.9 46.9 426.6C46.1 428.3 46.1 429.9 46.1 432.8C46.1 435.7 47.1 440.9 46.9 443.8C46.6 446.6 46.1 448.7 44.5 450.0C43.0 451.3 39.7 451.7 37.5 451.6C35.3 451.4 33.6 450.5 31.2 449.2C28.9 447.9 25.3 443.9 23.4 443.8C21.6 443.6 21.6 447.9 20.3 448.4C19.0 449.0 17.4 447.9 15.6 446.9C13.8 445.8 11.5 443.5 9.4 442.2C7.3 440.9 5.2 440.2 3.1 439.1C1.0 437.9 -2.1 445.1 -3.1 435.2C-4.2 425.3 -5.2 389.1 -3.1 379.7Z" fill="#a3ce88"/><g clip-path="url(#c60633)"><path d="M-1.6 389.8L15.6 412.5L31.2 432.8L43.8 448.4" fill="none" stroke="#6aa65c" stroke-width="16.0" opacity="0.6" filter="url(#wc2)" stroke-linecap="round"/></g><path d="M-1.6 389.8L15.6 412.5L31.2 432.8L43.8 448.4" fill="none" stroke="#d9ecd0" stroke-width="1.1" stroke-linecap="round" opacity="0.9"/></g>
<ellipse cx="1" cy="365" rx="5" ry="4" fill="#a5cf98" filter="url(#wc)"/>
<g filter="url(#wc)"><circle cx="31.9" cy="474.4" r="4.6" fill="#9a7a68"/><circle cx="31.099999999999998" cy="473.59999999999997" r="2.1" fill="#b79a88"/></g>
<g opacity="1.0" filter="url(#wc)"><circle cx="9.4" cy="540.6" r="26.9" fill="#ecf4e2" stroke="#44803f" stroke-width="1.5"/><circle cx="9.4" cy="540.6" r="24.9" fill="none" stroke="#c4ddb0" stroke-width="2" opacity="0.8"/><circle cx="9.4" cy="540.6" r="12.4" fill="#dceacb"/><ellipse cx="17.6" cy="542.7" rx="1.6" ry="3.6" fill="#eaf3de" stroke="#b9d4a2" stroke-width="0.8" transform="rotate(104 17.6 542.7)"/><ellipse cx="14.4" cy="548.7" rx="1.6" ry="3.6" fill="#eaf3de" stroke="#b9d4a2" stroke-width="0.8" transform="rotate(148 14.4 548.7)"/><ellipse cx="8.3" cy="550.0" rx="1.6" ry="3.6" fill="#eaf3de" stroke="#b9d4a2" stroke-width="0.8" transform="rotate(187 8.3 550.0)"/><ellipse cx="5.8" cy="546.6" rx="1.6" ry="3.6" fill="#eaf3de" stroke="#b9d4a2" stroke-width="0.8" transform="rotate(211 5.8 546.6)"/><ellipse cx="1.4" cy="540.4" rx="1.6" ry="3.6" fill="#eaf3de" stroke="#b9d4a2" stroke-width="0.8" transform="rotate(272 1.4 540.4)"/><ellipse cx="5.6" cy="537.3" rx="1.6" ry="3.6" fill="#eaf3de" stroke="#b9d4a2" stroke-width="0.8" transform="rotate(311 5.6 537.3)"/><ellipse cx="7.5" cy="535.2" rx="1.6" ry="3.6" fill="#eaf3de" stroke="#b9d4a2" stroke-width="0.8" transform="rotate(341 7.5 535.2)"/><ellipse cx="12.3" cy="533.6" rx="1.6" ry="3.6" fill="#eaf3de" stroke="#b9d4a2" stroke-width="0.8" transform="rotate(382 12.3 533.6)"/><ellipse cx="13.7" cy="537.0" rx="1.6" ry="3.6" fill="#eaf3de" stroke="#b9d4a2" stroke-width="0.8" transform="rotate(410 13.7 537.0)"/></g>
<g opacity="1.0" filter="url(#wc)"><circle cx="45.9" cy="526.6" r="29.1" fill="#ecf4e2" stroke="#44803f" stroke-width="1.5"/><circle cx="45.9" cy="526.6" r="27.1" fill="none" stroke="#c4ddb0" stroke-width="2" opacity="0.8"/><circle cx="45.9" cy="526.6" r="13.4" fill="#dceacb"/><ellipse cx="54.8" cy="528.9" rx="1.8" ry="3.9" fill="#eaf3de" stroke="#b9d4a2" stroke-width="0.8" transform="rotate(104 54.8 528.9)"/><ellipse cx="51.4" cy="535.4" rx="1.8" ry="3.9" fill="#eaf3de" stroke="#b9d4a2" stroke-width="0.8" transform="rotate(148 51.4 535.4)"/><ellipse cx="44.7" cy="536.8" rx="1.8" ry="3.9" fill="#eaf3de" stroke="#b9d4a2" stroke-width="0.8" transform="rotate(187 44.7 536.8)"/><ellipse cx="42.1" cy="533.1" rx="1.8" ry="3.9" fill="#eaf3de" stroke="#b9d4a2" stroke-width="0.8" transform="rotate(211 42.1 533.1)"/><ellipse cx="37.3" cy="526.4" rx="1.8" ry="3.9" fill="#eaf3de" stroke="#b9d4a2" stroke-width="0.8" transform="rotate(272 37.3 526.4)"/><ellipse cx="41.8" cy="523.1" rx="1.8" ry="3.9" fill="#eaf3de" stroke="#b9d4a2" stroke-width="0.8" transform="rotate(311 41.8 523.1)"/><ellipse cx="43.9" cy="520.7" rx="1.8" ry="3.9" fill="#eaf3de" stroke="#b9d4a2" stroke-width="0.8" transform="rotate(341 43.9 520.7)"/><ellipse cx="49.0" cy="519.1" rx="1.8" ry="3.9" fill="#eaf3de" stroke="#b9d4a2" stroke-width="0.8" transform="rotate(382 49.0 519.1)"/><ellipse cx="50.5" cy="522.7" rx="1.8" ry="3.9" fill="#eaf3de" stroke="#b9d4a2" stroke-width="0.8" transform="rotate(410 50.5 522.7)"/></g>
<g opacity="1.0" filter="url(#wc)"><path d="M42.5 619.0C44.6 615.6 47.9 612.8 51.6 611.2C55.2 609.7 60.4 609.1 64.4 610.0C68.5 610.8 73.0 613.4 76.1 616.4C79.1 619.4 80.9 624.9 82.5 628.0C84.1 631.1 83.7 633.7 85.6 635.0C87.5 636.3 91.4 634.1 94.1 635.7C96.8 637.4 100.3 641.5 101.8 644.8C103.3 648.0 103.5 651.2 103.1 655.1C102.7 658.9 101.6 664.5 99.3 668.0C96.9 671.4 91.8 674.0 88.9 675.7C86.1 677.4 83.5 676.1 82.0 678.3C80.5 680.4 81.8 685.6 79.9 688.6C78.1 691.6 74.5 694.6 70.9 696.3C67.2 698.0 62.1 699.3 58.0 698.9C53.9 698.5 49.4 696.3 46.4 693.7C43.4 691.2 41.3 686.2 40.0 683.4C38.6 680.6 40.1 678.3 38.2 677.0C36.2 675.7 31.5 677.0 28.4 675.7C25.2 674.4 21.5 672.3 19.3 669.3C17.2 666.2 15.7 661.7 15.5 657.7C15.3 653.6 16.3 648.2 18.0 644.8C19.8 641.3 23.0 638.5 25.8 637.0C28.6 635.5 32.6 636.7 34.8 635.7C37.0 634.8 37.9 634.1 39.2 631.4C40.5 628.6 40.5 622.3 42.5 619.0Z" fill="none" stroke="#dc4b3e" stroke-width="8.2" stroke-linejoin="round"/><path d="M42.5 619.0C44.6 615.6 47.9 612.8 51.6 611.2C55.2 609.7 60.4 609.1 64.4 610.0C68.5 610.8 73.0 613.4 76.1 616.4C79.1 619.4 80.9 624.9 82.5 628.0C84.1 631.1 83.7 633.7 85.6 635.0C87.5 636.3 91.4 634.1 94.1 635.7C96.8 637.4 100.3 641.5 101.8 644.8C103.3 648.0 103.5 651.2 103.1 655.1C102.7 658.9 101.6 664.5 99.3 668.0C96.9 671.4 91.8 674.0 88.9 675.7C86.1 677.4 83.5 676.1 82.0 678.3C80.5 680.4 81.8 685.6 79.9 688.6C78.1 691.6 74.5 694.6 70.9 696.3C67.2 698.0 62.1 699.3 58.0 698.9C53.9 698.5 49.4 696.3 46.4 693.7C43.4 691.2 41.3 686.2 40.0 683.4C38.6 680.6 40.1 678.3 38.2 677.0C36.2 675.7 31.5 677.0 28.4 675.7C25.2 674.4 21.5 672.3 19.3 669.3C17.2 666.2 15.7 661.7 15.5 657.7C15.3 653.6 16.3 648.2 18.0 644.8C19.8 641.3 23.0 638.5 25.8 637.0C28.6 635.5 32.6 636.7 34.8 635.7C37.0 634.8 37.9 634.1 39.2 631.4C40.5 628.6 40.5 622.3 42.5 619.0Z" fill="none" stroke="#ee8272" stroke-width="3.4" stroke-linejoin="round" opacity="0.65"/><circle cx="101.8" cy="655.1" r="11.6" fill="url(#gFade)"/><circle cx="85.1" cy="634.4" r="6.4" fill="url(#gFade)"/></g>
<g opacity="1.0" filter="url(#wc)"><path d="M0.0 594.5C4.7 593.6 8.6 594.5 12.9 595.8C17.2 597.1 22.1 599.2 25.8 602.2C29.4 605.2 32.9 609.7 34.8 613.8C36.7 617.9 37.5 623.2 37.4 626.7C37.3 630.2 33.8 632.0 34.0 635.0C34.2 638.0 38.1 641.0 38.7 644.8C39.2 648.5 38.7 653.6 37.4 657.7C36.1 661.7 33.9 666.5 30.9 669.3C27.9 672.0 23.2 673.3 19.3 674.4C15.5 675.5 11.0 675.9 7.7 675.7C4.5 675.5 3.9 674.4 0.0 673.1C-3.9 671.8 -11.2 674.4 -15.5 668.0C-19.8 661.5 -25.8 645.6 -25.8 634.4C-25.8 623.3 -19.8 607.6 -15.5 600.9C-11.2 594.3 -4.7 595.4 0.0 594.5Z" fill="none" stroke="#f2d650" stroke-width="9.8" stroke-linejoin="round"/><path d="M0.0 594.5C4.7 593.6 8.6 594.5 12.9 595.8C17.2 597.1 22.1 599.2 25.8 602.2C29.4 605.2 32.9 609.7 34.8 613.8C36.7 617.9 37.5 623.2 37.4 626.7C37.3 630.2 33.8 632.0 34.0 635.0C34.2 638.0 38.1 641.0 38.7 644.8C39.2 648.5 38.7 653.6 37.4 657.7C36.1 661.7 33.9 666.5 30.9 669.3C27.9 672.0 23.2 673.3 19.3 674.4C15.5 675.5 11.0 675.9 7.7 675.7C4.5 675.5 3.9 674.4 0.0 673.1C-3.9 671.8 -11.2 674.4 -15.5 668.0C-19.8 661.5 -25.8 645.6 -25.8 634.4C-25.8 623.3 -19.8 607.6 -15.5 600.9C-11.2 594.3 -4.7 595.4 0.0 594.5Z" fill="none" stroke="#f9ea98" stroke-width="4.1" stroke-linejoin="round" opacity="0.65"/></g>
<g transform="translate(144.9 634.5) rotate(-52)" opacity="0.9" filter="url(#wc)"><path d="M-12.0 0C-6.0 -10.5 6.0 -9.8 12.0 0C6.0 9.8 -6.0 10.5 -12.0 0Z" fill="#b3d5a4"/><path d="M-15.0 0H10.0" stroke="#8fbc80" stroke-width="0.8" fill="none"/></g>
<g filter="url(#rough)" opacity="0.9"><path d="M152.9 660.8C156.8 659.6 161.1 659.9 165.2 660.0C169.3 660.1 173.9 660.1 177.5 661.5C181.1 662.9 184.4 665.7 186.7 668.4C189.0 671.1 189.3 674.3 191.3 677.6C193.4 681.0 196.2 685.1 199.0 688.4C201.8 691.7 206.1 695.1 208.2 697.6C210.4 700.2 212.6 701.5 212.1 703.8C211.6 706.1 207.5 709.1 205.2 711.4C202.9 713.7 198.2 716.3 198.2 717.6C198.2 718.9 203.1 717.6 205.2 719.1C207.2 720.6 210.0 724.0 210.5 726.8C211.0 729.6 208.4 732.4 208.2 736.0C208.1 739.6 210.3 744.7 209.8 748.3C209.3 751.9 205.4 753.7 205.2 757.5C204.9 761.4 228.7 769.0 208.2 771.3C187.7 773.6 102.8 773.1 82.3 771.3C61.8 769.5 85.6 764.4 85.4 760.6C85.1 756.7 81.8 752.4 80.8 748.3C79.7 744.2 79.5 740.1 79.2 736.0C79.0 731.9 78.8 727.0 79.2 723.7C79.6 720.4 80.2 717.6 81.5 716.0C82.8 714.5 85.0 714.4 86.9 714.5C88.8 714.6 91.6 715.3 93.0 716.8C94.4 718.3 94.1 721.5 95.3 723.7C96.6 725.9 98.8 728.6 100.7 729.9C102.6 731.1 105.5 731.9 106.9 731.4C108.3 730.9 108.9 728.3 109.2 726.8C109.4 725.3 107.5 723.7 108.4 722.2C109.3 720.6 114.0 719.4 114.5 717.6C115.1 715.8 111.9 714.3 111.5 711.4C111.1 708.6 111.2 703.5 112.2 700.7C113.3 697.9 116.6 697.1 117.6 694.5C118.6 692.0 117.4 687.9 118.4 685.3C119.4 682.8 120.8 681.2 123.8 679.2C126.7 677.1 133.0 675.1 136.0 673.0C139.1 671.0 139.4 668.9 142.2 666.9C145.0 664.8 149.1 661.9 152.9 660.8Z" fill="#dfeecb" stroke="#a9d18a" stroke-width="1.2"/><g filter="url(#wc2)"><path d="M120.7 682.3C124.3 678.2 132.2 675.6 136.0 676.1C139.9 676.6 142.7 681.0 143.7 685.3C144.7 689.7 143.0 696.8 142.2 702.2C141.4 707.6 141.4 714.3 139.1 717.6C136.8 720.9 132.2 722.4 128.4 722.2C124.5 721.9 118.4 719.6 116.1 716.0C113.8 712.5 113.8 706.3 114.5 700.7C115.3 695.1 117.1 686.3 120.7 682.3Z" fill="#a6d17e" opacity="0.85"/><path d="M169.8 702.2C173.4 699.7 183.4 699.1 189.8 699.1C196.2 699.1 205.2 700.2 208.2 702.2C211.3 704.3 209.5 708.6 208.2 711.4C206.9 714.3 205.2 717.3 200.5 719.1C195.9 720.9 186.0 723.0 180.6 722.2C175.2 721.4 170.1 717.8 168.3 714.5C166.5 711.2 166.2 704.8 169.8 702.2Z" fill="#a3cf7c" opacity="0.85"/><path d="M146.8 663.8C151.1 662.0 163.7 661.3 169.8 662.3C176.0 663.3 180.8 666.9 183.7 670.0C186.5 673.0 190.3 679.9 186.7 680.7C183.1 681.5 169.3 675.9 162.2 674.6C155.0 673.3 146.3 674.8 143.7 673.0C141.2 671.2 142.4 665.6 146.8 663.8Z" fill="#bcdc9c" opacity="0.8"/><path d="M80.8 717.6C82.8 715.3 88.9 714.5 91.5 716.0C94.1 717.6 96.6 724.0 96.1 726.8C95.6 729.6 91.2 732.4 88.4 732.9C85.6 733.4 80.5 732.4 79.2 729.9C77.9 727.3 78.7 719.9 80.8 717.6Z" fill="#b4d894" opacity="0.8"/><path d="M88.4 756.0C93.5 753.2 105.8 754.2 116.1 754.4C126.3 754.7 143.2 754.7 149.9 757.5C156.5 760.3 166.8 769.0 156.0 771.3C145.3 773.6 96.6 773.9 85.4 771.3C74.1 768.8 83.3 758.8 88.4 756.0Z" fill="#b2d792" opacity="0.8"/><path d="M156.0 754.4C159.6 750.9 169.8 749.6 177.5 749.8C185.2 750.1 197.5 752.4 202.1 756.0C206.7 759.6 212.8 768.8 205.2 771.3C197.5 773.9 164.2 774.1 156.0 771.3C147.8 768.5 152.4 758.0 156.0 754.4Z" fill="#9fcd7a" opacity="0.8"/></g></g><g filter="url(#wc)"><path d="M153.7 702.2C152.0 704.8 146.7 713.0 143.7 717.6C140.8 722.2 139.9 723.2 136.0 729.9C132.2 736.5 124.5 750.6 120.7 757.5C116.8 764.4 114.3 769.0 113.0 771.3" fill="none" stroke="#f0f7e6" stroke-width="1.8" stroke-linecap="round"/><path d="M177.5 714.5C173.9 715.5 162.7 718.3 156.0 720.6C149.4 723.0 140.6 727.0 137.6 728.3" fill="none" stroke="#f0f7e6" stroke-width="1.8" stroke-linecap="round"/><path d="M131.4 688.4C131.7 691.7 132.2 702.0 133.0 708.4C133.7 714.8 135.5 723.7 136.0 726.8" fill="none" stroke="#f0f7e6" stroke-width="1.8" stroke-linecap="round"/></g>
<g opacity="0.9" filter="url(#wc)"><circle cx="14" cy="757" r="37.4" fill="#ecf4e2" stroke="#44803f" stroke-width="1.5"/><circle cx="14" cy="757" r="35.4" fill="none" stroke="#c4ddb0" stroke-width="2" opacity="0.8"/><circle cx="14" cy="757" r="17.1" fill="#dceacb"/><ellipse cx="25.4" cy="759.9" rx="2.3" ry="4.9" fill="#eaf3de" stroke="#b9d4a2" stroke-width="0.8" transform="rotate(104 25.4 759.9)"/><ellipse cx="21.0" cy="768.3" rx="2.3" ry="4.9" fill="#eaf3de" stroke="#b9d4a2" stroke-width="0.8" transform="rotate(148 21.0 768.3)"/><ellipse cx="12.4" cy="770.0" rx="2.3" ry="4.9" fill="#eaf3de" stroke="#b9d4a2" stroke-width="0.8" transform="rotate(187 12.4 770.0)"/><ellipse cx="9.1" cy="765.3" rx="2.3" ry="4.9" fill="#eaf3de" stroke="#b9d4a2" stroke-width="0.8" transform="rotate(211 9.1 765.3)"/><ellipse cx="3.0" cy="756.7" rx="2.3" ry="4.9" fill="#eaf3de" stroke="#b9d4a2" stroke-width="0.8" transform="rotate(272 3.0 756.7)"/><ellipse cx="8.7" cy="752.5" rx="2.3" ry="4.9" fill="#eaf3de" stroke="#b9d4a2" stroke-width="0.8" transform="rotate(311 8.7 752.5)"/><ellipse cx="11.4" cy="749.5" rx="2.3" ry="4.9" fill="#eaf3de" stroke="#b9d4a2" stroke-width="0.8" transform="rotate(341 11.4 749.5)"/><ellipse cx="18.0" cy="747.4" rx="2.3" ry="4.9" fill="#eaf3de" stroke="#b9d4a2" stroke-width="0.8" transform="rotate(382 18.0 747.4)"/><ellipse cx="19.9" cy="752.1" rx="2.3" ry="4.9" fill="#eaf3de" stroke="#b9d4a2" stroke-width="0.8" transform="rotate(410 19.9 752.1)"/></g>
<g opacity="0.85" filter="url(#wc)"><circle cx="269.5" cy="757.5" r="47" fill="#ee8476"/><circle cx="269.5" cy="757.5" r="46.2" fill="none" stroke="#dc5c50" stroke-width="1.8"/><circle cx="269.5" cy="757.5" r="40.4" fill="none" stroke="#f19485" stroke-width="3.8" opacity="0.8"/><path d="M285.4 758.6C287.2 757.1 292.0 755.3 295.3 753.9C298.5 752.5 302.9 749.4 304.8 750.3C306.8 751.2 307.1 755.9 307.0 759.4C306.9 763.0 305.7 768.4 304.2 771.6C302.8 774.9 300.6 779.0 298.5 779.0C296.3 779.0 293.7 774.3 291.3 771.6C289.0 769.0 285.4 765.4 284.4 763.2C283.4 761.0 283.6 760.2 285.4 758.6Z" fill="#da4231"/><path d="M289.1 760.2C290.6 759.3 296.6 756.9 297.7 758.3C298.7 759.8 297.0 767.8 295.4 768.7C293.8 769.5 289.4 764.8 288.3 763.4C287.3 762.0 287.5 761.0 289.1 760.2Z" fill="#ec7060" opacity="0.85"/><ellipse cx="301.3" cy="754.4" rx="1.4" ry="2.8" fill="#f6b5a2" transform="rotate(85 301.3 754.4)"/><ellipse cx="301.3" cy="761.1" rx="1.4" ry="2.8" fill="#f6b5a2" transform="rotate(97 301.3 761.1)"/><ellipse cx="299.8" cy="767.7" rx="1.4" ry="2.8" fill="#f6b5a2" transform="rotate(109 299.8 767.7)"/><ellipse cx="297.0" cy="773.7" rx="1.4" ry="2.8" fill="#f6b5a2" transform="rotate(121 297.0 773.7)"/><path d="M276.2 772.0C278.5 772.8 282.4 776.2 285.2 778.3C288.0 780.5 292.9 782.8 293.0 785.0C293.2 787.2 289.3 789.6 286.1 791.3C282.9 792.9 277.6 794.5 274.1 794.9C270.5 795.2 265.9 795.3 264.8 793.4C263.8 791.5 266.6 786.9 267.8 783.5C268.9 780.2 270.4 775.2 271.8 773.3C273.2 771.4 274.0 771.1 276.2 772.0Z" fill="#da4231"/><path d="M276.7 775.9C278.2 776.8 283.2 780.9 282.5 782.5C281.7 784.2 273.8 786.5 272.3 785.6C270.8 784.6 272.8 778.4 273.5 776.8C274.3 775.2 275.2 774.9 276.7 775.9Z" fill="#ec7060" opacity="0.85"/><ellipse cx="287.6" cy="783.8" rx="1.4" ry="2.8" fill="#f6b5a2" transform="rotate(145 287.6 783.8)"/><ellipse cx="281.8" cy="787.0" rx="1.4" ry="2.8" fill="#f6b5a2" transform="rotate(157 281.8 787.0)"/><ellipse cx="275.4" cy="788.9" rx="1.4" ry="2.8" fill="#f6b5a2" transform="rotate(169 275.4 788.9)"/><ellipse cx="268.7" cy="789.5" rx="1.4" ry="2.8" fill="#f6b5a2" transform="rotate(181 268.7 789.5)"/><path d="M259.9 770.3C260.3 772.6 259.3 777.3 258.8 780.6C258.3 783.9 258.6 789.0 256.9 790.1C255.1 791.1 251.2 789.0 248.4 787.0C245.5 785.1 241.7 781.3 239.8 778.4C237.9 775.6 235.8 771.6 236.8 769.9C237.9 768.2 243.0 768.5 246.3 768.0C249.6 767.5 254.4 766.6 256.6 767.0C258.9 767.4 259.6 768.0 259.9 770.3Z" fill="#da4231"/><path d="M256.7 772.5C256.6 774.3 255.3 780.6 253.6 780.8C251.8 780.9 246.0 775.0 246.1 773.3C246.3 771.5 252.6 770.3 254.4 770.2C256.1 770.1 256.8 770.8 256.7 772.5Z" fill="#ec7060" opacity="0.85"/><ellipse cx="254.9" cy="785.9" rx="1.4" ry="2.8" fill="#f6b5a2" transform="rotate(207 254.9 785.9)"/><ellipse cx="249.3" cy="782.3" rx="1.4" ry="2.8" fill="#f6b5a2" transform="rotate(219 249.3 782.3)"/><ellipse cx="244.6" cy="777.5" rx="1.4" ry="2.8" fill="#f6b5a2" transform="rotate(231 244.6 777.5)"/><ellipse cx="241.0" cy="771.9" rx="1.4" ry="2.8" fill="#f6b5a2" transform="rotate(243 241.0 771.9)"/><path d="M253.5 756.8C251.7 758.4 246.8 760.3 243.5 761.8C240.2 763.3 235.7 766.7 233.7 765.8C231.7 764.9 231.3 760.2 231.3 756.6C231.3 753.0 232.4 747.4 233.7 744.1C235.1 740.7 237.2 736.5 239.4 736.4C241.6 736.4 244.5 741.1 247.0 743.8C249.5 746.4 253.3 750.0 254.4 752.2C255.5 754.4 255.4 755.2 253.5 756.8Z" fill="#da4231"/><path d="M249.9 755.4C248.3 756.3 242.4 758.8 241.3 757.4C240.2 756.0 241.8 747.9 243.3 747.0C244.8 746.2 249.4 750.7 250.5 752.1C251.6 753.5 251.4 754.5 249.9 755.4Z" fill="#ec7060" opacity="0.85"/><ellipse cx="237.8" cy="761.4" rx="1.4" ry="2.8" fill="#f6b5a2" transform="rotate(263 237.8 761.4)"/><ellipse cx="237.7" cy="754.7" rx="1.4" ry="2.8" fill="#f6b5a2" transform="rotate(275 237.7 754.7)"/><ellipse cx="238.9" cy="748.2" rx="1.4" ry="2.8" fill="#f6b5a2" transform="rotate(287 238.9 748.2)"/><ellipse cx="241.5" cy="742.0" rx="1.4" ry="2.8" fill="#f6b5a2" transform="rotate(299 241.5 742.0)"/><path d="M262.6 743.1C260.4 742.4 256.5 739.2 253.8 737.2C251.1 735.2 246.3 733.0 246.2 731.0C246.0 728.9 249.8 726.4 252.9 724.7C255.9 723.1 261.1 721.5 264.6 721.1C268.0 720.7 272.6 720.6 273.6 722.4C274.7 724.2 272.0 728.7 270.9 731.9C269.8 735.1 268.4 739.8 267.0 741.7C265.6 743.6 264.8 743.9 262.6 743.1Z" fill="#da4231"/><path d="M262.1 739.2C260.6 738.3 255.5 734.3 256.2 732.6C256.9 731.0 264.8 728.5 266.3 729.5C267.8 730.4 265.9 736.6 265.2 738.2C264.5 739.9 263.6 740.1 262.1 739.2Z" fill="#ec7060" opacity="0.85"/><ellipse cx="251.0" cy="731.4" rx="1.4" ry="2.8" fill="#f6b5a2" transform="rotate(325 251.0 731.4)"/><ellipse cx="256.8" cy="728.2" rx="1.4" ry="2.8" fill="#f6b5a2" transform="rotate(337 256.8 728.2)"/><ellipse cx="263.2" cy="726.2" rx="1.4" ry="2.8" fill="#f6b5a2" transform="rotate(349 263.2 726.2)"/><ellipse cx="269.9" cy="725.5" rx="1.4" ry="2.8" fill="#f6b5a2" transform="rotate(361 269.9 725.5)"/><path d="M279.6 745.1C279.4 742.8 280.7 737.9 281.4 734.5C282.1 731.0 282.1 725.7 283.9 724.6C285.8 723.6 289.7 726.0 292.5 728.1C295.4 730.3 299.1 734.3 300.9 737.4C302.8 740.4 304.8 744.5 303.6 746.3C302.4 748.0 297.0 747.5 293.6 747.8C290.1 748.2 285.1 749.0 282.8 748.6C280.4 748.1 279.9 747.5 279.6 745.1Z" fill="#da4231"/><path d="M282.9 743.0C283.2 741.3 284.7 735.0 286.4 735.0C288.2 734.9 293.8 741.0 293.6 742.8C293.3 744.5 286.9 745.4 285.2 745.5C283.4 745.5 282.7 744.8 282.9 743.0Z" fill="#ec7060" opacity="0.85"/><ellipse cx="285.4" cy="729.7" rx="1.4" ry="2.8" fill="#f6b5a2" transform="rotate(390 285.4 729.7)"/><ellipse cx="290.8" cy="733.6" rx="1.4" ry="2.8" fill="#f6b5a2" transform="rotate(402 290.8 733.6)"/><ellipse cx="295.3" cy="738.6" rx="1.4" ry="2.8" fill="#f6b5a2" transform="rotate(414 295.3 738.6)"/><ellipse cx="298.6" cy="744.4" rx="1.4" ry="2.8" fill="#f6b5a2" transform="rotate(426 298.6 744.4)"/><circle cx="269.5" cy="757.5" r="11.3" fill="#f4b2a3"/></g>
<g transform="translate(320.5 701.5) rotate(38)" opacity="0.9" filter="url(#wc)"><path d="M-11.0 0C-5.5 -9.8 5.5 -9.1 11.0 0C5.5 9.1 -5.5 9.8 -11.0 0Z" fill="#b4d6a8"/><path d="M-14.0 0H9.0" stroke="#8fbc80" stroke-width="0.8" fill="none"/></g>
<g opacity="0.95" filter="url(#wc)"><clipPath id="c39678"><path d="M337.5 769.9C331.4 768.3 338.0 762.5 339.1 760.3C340.2 758.2 341.8 758.2 343.9 757.2C346.0 756.1 349.2 756.4 351.9 754.0C354.6 751.6 357.5 746.8 359.9 742.8C362.3 738.8 363.9 733.4 366.3 730.0C368.7 726.5 371.3 723.6 374.3 722.0C377.2 720.4 379.9 720.9 383.9 720.4C387.9 719.8 394.8 718.5 398.3 718.8C401.7 719.0 403.9 719.8 404.7 722.0C405.5 724.1 404.4 728.9 403.1 731.6C401.7 734.2 397.5 735.3 396.7 738.0C395.9 740.6 398.8 744.4 398.3 747.6C397.7 750.8 395.9 754.8 393.5 757.2C391.1 759.5 386.8 759.8 383.9 761.9C380.9 764.1 383.6 768.6 375.9 769.9C368.1 771.3 343.6 771.5 337.5 769.9Z"/></clipPath><path d="M337.5 769.9C331.4 768.3 338.0 762.5 339.1 760.3C340.2 758.2 341.8 758.2 343.9 757.2C346.0 756.1 349.2 756.4 351.9 754.0C354.6 751.6 357.5 746.8 359.9 742.8C362.3 738.8 363.9 733.4 366.3 730.0C368.7 726.5 371.3 723.6 374.3 722.0C377.2 720.4 379.9 720.9 383.9 720.4C387.9 719.8 394.8 718.5 398.3 718.8C401.7 719.0 403.9 719.8 404.7 722.0C405.5 724.1 404.4 728.9 403.1 731.6C401.7 734.2 397.5 735.3 396.7 738.0C395.9 740.6 398.8 744.4 398.3 747.6C397.7 750.8 395.9 754.8 393.5 757.2C391.1 759.5 386.8 759.8 383.9 761.9C380.9 764.1 383.6 768.6 375.9 769.9C368.1 771.3 343.6 771.5 337.5 769.9Z" fill="#b1d6a4"/><g clip-path="url(#c39678)"><path d="M343.9 769.9L367.9 744.4L398.3 722.0" fill="none" stroke="#86bd7c" stroke-width="16.4" opacity="0.6" filter="url(#wc2)" stroke-linecap="round"/></g><path d="M343.9 769.9L367.9 744.4L398.3 722.0" fill="none" stroke="#d9ecd0" stroke-width="1.1" stroke-linecap="round" opacity="0.9"/></g>

<!-- TITLE -->
<text id="t1" class="b" style="stroke:#0a0a0a;stroke-width:0.8px;stroke-linejoin:round" x="696.7" y="99" font-size="59" text-anchor="middle" textLength="896" lengthAdjust="spacingAndGlyphs">肥満率の推移と働き盛り世代の危機</text>
<text id="t2" class="b" style="stroke:#0a0a0a;stroke-width:0.5px;stroke-linejoin:round" x="687.5" y="163" font-size="42" text-anchor="middle" textLength="435" lengthAdjust="spacingAndGlyphs">特に<tspan font-size="45">30-40</tspan>代男性で顕著.</text>

<!-- LEFT CHART -->
<g id="left">
  <text class="m" x="68.5" y="222.5" font-size="21" textLength="106.5" lengthAdjust="spacingAndGlyphs">肥満率 (%)</text>
  <path class="grid" d="M125 250.5H725M125 333.5H725M125 416.5H725M125 499.5H725M125 582.5H725"/>
  <path class="axis" d="M124.3 250V665.8M123.5 665H725.5"/>
  <g class="ax" text-anchor="end" filter="url(#halo)">
    <text x="114.3" y="259.7" textLength="45.5" lengthAdjust="spacingAndGlyphs"><tspan>50%</tspan></text>
    <text x="114.3" y="342.7" textLength="45.5" lengthAdjust="spacingAndGlyphs"><tspan>40%</tspan></text>
    <text x="114.3" y="425.7" textLength="45.5" lengthAdjust="spacingAndGlyphs"><tspan>30%</tspan></text>
    <text x="114.3" y="508.7" textLength="45.5" lengthAdjust="spacingAndGlyphs"><tspan>20%</tspan></text>
    <text x="114.3" y="591.7" textLength="45.5" lengthAdjust="spacingAndGlyphs"><tspan>10%</tspan></text>
    <text x="114.3" y="674.7" textLength="33" lengthAdjust="spacingAndGlyphs"><tspan>0%</tspan></text>
  </g>
  <g class="ax" text-anchor="middle" filter="url(#halo2)">
    <text x="174.7" y="697.3" textLength="71.3" lengthAdjust="spacingAndGlyphs"><tspan>1973</tspan>年</text>
    <text x="274.7" y="697.3" textLength="71.3" lengthAdjust="spacingAndGlyphs"><tspan>1980</tspan>年</text>
    <text x="374.5" y="697.3" textLength="71.3" lengthAdjust="spacingAndGlyphs"><tspan>1990</tspan>年</text>
    <text x="475.2" y="697.3" textLength="71.3" lengthAdjust="spacingAndGlyphs"><tspan>2000</tspan>年</text>
    <text x="575.2" y="697.3" textLength="71.3" lengthAdjust="spacingAndGlyphs"><tspan>2010</tspan>年</text>
    <text x="675.5" y="697.3" textLength="71.3" lengthAdjust="spacingAndGlyphs"><tspan>2019</tspan>年</text>
  </g>
</g>

<!-- RIGHT CHART -->
<g id="right">
  <text class="m" x="805.5" y="222.5" font-size="21" textLength="106.5" lengthAdjust="spacingAndGlyphs">肥満率 (%)</text>
  <path class="grid" d="M870 251.5H1291M870 354.5H1304M870 458H1304M870 561H1304"/>
  <g filter="url(#glow)" opacity="0.8">
    <rect x="995" y="302" width="75" height="365" fill="#ff6440"/>
    <rect x="1103" y="297" width="75" height="370" fill="#ff6440"/>
  </g>
  <rect x="891.5" y="352" width="64.5" height="313" fill="#7fb9e4"/>
  <rect x="1000.2" y="308" width="64.4" height="357" fill="url(#gRed)"/>
  <rect x="1108.5" y="303" width="64.3" height="362" fill="url(#gRed)"/>
  <rect x="1217.3" y="302" width="64.4" height="363" fill="#7fb9e4"/>
  <path class="axis" d="M869.4 250.8V665.8M868.7 665.1H1304.5"/>
  <g class="ax" text-anchor="end">
    <text x="854" y="259.7" textLength="45.5" lengthAdjust="spacingAndGlyphs"><tspan>40%</tspan></text>
    <text x="854" y="362.7" textLength="45.5" lengthAdjust="spacingAndGlyphs"><tspan>30%</tspan></text>
    <text x="854" y="466.2" textLength="45.5" lengthAdjust="spacingAndGlyphs"><tspan>20%</tspan></text>
    <text x="854" y="569.2" textLength="45.5" lengthAdjust="spacingAndGlyphs"><tspan>10%</tspan></text>
    <text x="854" y="672.9" textLength="33" lengthAdjust="spacingAndGlyphs"><tspan>0%</tspan></text>
  </g>
  <g class="ax" text-anchor="middle">
    <text x="923.5" y="697.3" textLength="90.5" lengthAdjust="spacingAndGlyphs"><tspan>20</tspan>代男性</text>
    <text x="1032.5" y="697.3" textLength="90.5" lengthAdjust="spacingAndGlyphs"><tspan>30</tspan>代男性</text>
    <text x="1141" y="697.3" textLength="90.5" lengthAdjust="spacingAndGlyphs"><tspan>40</tspan>代男性</text>
    <text x="1249.3" y="697.3" textLength="90.5" lengthAdjust="spacingAndGlyphs"><tspan>50</tspan>代男性</text>
  </g>
  <g class="b vl" text-anchor="middle" font-size="34.4">
    <text x="924.2" y="341.9" textLength="75.3" lengthAdjust="spacingAndGlyphs">30.2<tspan font-size="24.6">%</tspan></text>
    <text x="1033" y="297.4" textLength="75.3" lengthAdjust="spacingAndGlyphs">34.3<tspan font-size="24.6">%</tspan></text>
    <text x="1141.3" y="292.2" textLength="75.3" lengthAdjust="spacingAndGlyphs">34.8<tspan font-size="24.6">%</tspan></text>
    <text x="1250" y="291.2" textLength="75.3" lengthAdjust="spacingAndGlyphs">35.0<tspan font-size="24.6">%</tspan></text>
  </g>
</g>


<g id="arrows">
  <g filter="url(#sh)" transform="translate(1.2 1.4)">
    <path d="M175.8 511.8C182.2 509.9 201.3 505.1 214.0 500.6C226.7 496.2 239.4 490.8 252.2 485.1C264.9 479.3 277.6 473.0 290.3 466.3C303.1 459.7 315.8 452.6 328.5 445.1C341.2 437.6 354.0 429.8 366.7 421.4C379.4 413.0 392.1 404.2 404.9 394.5C417.6 384.8 430.3 374.6 443.0 363.1C455.8 351.5 468.5 339.3 481.2 325.2C493.9 311.0 513.0 286.0 519.4 278.2L492.8 264.7L585.3 226.1L572.2 322.5L552.2 301.1C545.2 307.6 524.3 327.8 510.4 339.8C496.4 351.8 482.5 362.8 468.6 373.2C454.6 383.6 440.7 393.2 426.7 402.3C412.8 411.4 398.9 419.8 384.9 427.8C371.0 435.8 357.0 443.3 343.1 450.3C329.1 457.4 315.2 464.0 301.3 470.1C287.3 476.2 273.4 481.9 259.4 487.1C245.5 492.3 231.6 497.1 217.6 501.2C203.7 505.3 182.8 510.0 175.8 511.8Z" fill="#fff" stroke="#fff" stroke-width="9.5" stroke-linejoin="round"/>
    <path d="M265.0 622.6C270.1 622.2 285.2 621.3 295.4 619.9C305.5 618.5 315.6 616.7 325.7 614.4C335.9 612.1 346.0 609.3 356.1 605.9C366.2 602.6 376.3 598.7 386.5 594.4C396.6 590.0 406.7 585.1 416.8 579.7C427.0 574.3 437.1 568.4 447.2 562.0C457.3 555.6 467.4 548.7 477.6 541.4C487.7 534.1 497.8 526.3 507.9 518.2C518.1 510.1 533.2 496.9 538.3 492.7L517.5 476.0L599.2 460.8L575.8 538.5L562.1 517.1C556.6 521.5 540.1 535.7 529.1 543.6C518.1 551.5 507.1 558.4 496.1 564.7C485.1 571.1 474.1 576.5 463.1 581.6C452.1 586.6 441.1 591.0 430.1 595.0C419.1 599.0 408.0 602.4 397.0 605.5C386.0 608.6 375.0 611.3 364.0 613.6C353.0 615.9 342.0 617.8 331.0 619.3C320.0 620.8 309.0 621.9 298.0 622.4C287.0 623.0 270.5 622.6 265.0 622.6Z" fill="#fff" stroke="#fff" stroke-width="9.5" stroke-linejoin="round"/>
  </g>
  <path d="M175.8 511.8C182.2 509.9 201.3 505.1 214.0 500.6C226.7 496.2 239.4 490.8 252.2 485.1C264.9 479.3 277.6 473.0 290.3 466.3C303.1 459.7 315.8 452.6 328.5 445.1C341.2 437.6 354.0 429.8 366.7 421.4C379.4 413.0 392.1 404.2 404.9 394.5C417.6 384.8 430.3 374.6 443.0 363.1C455.8 351.5 468.5 339.3 481.2 325.2C493.9 311.0 513.0 286.0 519.4 278.2L492.8 264.7L585.3 226.1L572.2 322.5L552.2 301.1C545.2 307.6 524.3 327.8 510.4 339.8C496.4 351.8 482.5 362.8 468.6 373.2C454.6 383.6 440.7 393.2 426.7 402.3C412.8 411.4 398.9 419.8 384.9 427.8C371.0 435.8 357.0 443.3 343.1 450.3C329.1 457.4 315.2 464.0 301.3 470.1C287.3 476.2 273.4 481.9 259.4 487.1C245.5 492.3 231.6 497.1 217.6 501.2C203.7 505.3 182.8 510.0 175.8 511.8Z" fill="url(#gArrowA)"/>
  <path d="M265.0 622.6C270.1 622.2 285.2 621.3 295.4 619.9C305.5 618.5 315.6 616.7 325.7 614.4C335.9 612.1 346.0 609.3 356.1 605.9C366.2 602.6 376.3 598.7 386.5 594.4C396.6 590.0 406.7 585.1 416.8 579.7C427.0 574.3 437.1 568.4 447.2 562.0C457.3 555.6 467.4 548.7 477.6 541.4C487.7 534.1 497.8 526.3 507.9 518.2C518.1 510.1 533.2 496.9 538.3 492.7L517.5 476.0L599.2 460.8L575.8 538.5L562.1 517.1C556.6 521.5 540.1 535.7 529.1 543.6C518.1 551.5 507.1 558.4 496.1 564.7C485.1 571.1 474.1 576.5 463.1 581.6C452.1 586.6 441.1 591.0 430.1 595.0C419.1 599.0 408.0 602.4 397.0 605.5C386.0 608.6 375.0 611.3 364.0 613.6C353.0 615.9 342.0 617.8 331.0 619.3C320.0 620.8 309.0 621.9 298.0 622.4C287.0 623.0 270.5 622.6 265.0 622.6Z" fill="url(#gArrowB)"/>
</g>


<g id="line">
  <path d="M174.5 595.4L277.5 558.9L377.5 510.3L675 333.2" fill="none" stroke="#2170b5" stroke-width="6.5" stroke-linejoin="round" stroke-linecap="round"/>
  <circle cx="174.5" cy="595.4" r="9.4" fill="#2170b5"/>
  <circle cx="675" cy="333.2" r="9.2" fill="#2170b5"/>
</g>


<g id="labels" class="b vl">
  <text x="136" y="568.3" font-size="31.6" textLength="78.5" lengthAdjust="spacingAndGlyphs">8-16<tspan font-size="24">%</tspan></text>
  <text x="634.8" y="388" font-size="32" textLength="94.2" lengthAdjust="spacingAndGlyphs">23-40<tspan font-size="23.5">%</tspan></text>
</g>


<g id="icon">
  <path d="M710.8 275.7L716.9 275.7L716.9 293.9L720.3 293.9L720.3 277.7L724.9 277.7L724.9 293.9L729.0 293.9L729.0 277.7L734.0 277.7L734.0 293.9L738.0 293.9L738.0 279.7L744.1 279.7L744.1 299.9C743.5 310.0 736.0 314.0 732.0 320.1L732.0 341.9L722.9 341.9L722.9 320.1C718.9 314.0 711.2 310.0 710.8 299.9Z" fill="#8f989e"/>
  <path d="M665.4 230.3C666.6 228.0 669.9 226.4 672.5 226.3C675.0 226.1 678.2 229.1 680.5 229.3C682.9 229.5 684.9 226.3 686.6 227.3C688.3 228.3 688.9 232.3 690.6 235.4C692.3 238.4 695.0 242.1 696.7 245.4C698.4 248.8 699.7 252.5 700.7 255.5C701.7 258.6 703.7 261.4 702.7 263.6C701.7 265.8 697.7 268.0 694.7 268.6C691.6 269.3 686.9 268.8 684.6 267.6C682.2 266.5 682.4 262.9 680.5 261.6C678.7 260.2 675.2 261.1 673.5 259.6C671.8 258.1 670.8 254.7 670.4 252.5C670.1 250.3 672.3 248.5 671.5 246.5C670.6 244.4 666.4 243.1 665.4 240.4C664.4 237.7 664.2 232.7 665.4 230.3Z" fill="#8db85c" stroke="#f2f7e6" stroke-width="1.6"/>
  <path d="M727.9 207.1C729.3 204.9 732.8 202.4 735.0 202.1C737.2 201.7 739.9 203.6 741.1 205.1C742.2 206.6 740.9 209.6 742.1 211.1C743.3 212.7 747.3 212.5 748.1 214.2C749.0 215.9 747.0 218.9 747.1 221.2C747.3 223.6 749.6 225.9 749.1 228.3C748.6 230.6 745.8 233.3 744.1 235.4C742.4 237.4 740.7 239.9 739.0 240.4C737.4 240.9 735.5 239.9 734.0 238.4C732.5 236.9 731.3 233.8 730.0 231.3C728.6 228.8 726.4 225.9 725.9 223.2C725.4 220.6 726.6 217.9 726.9 215.2C727.3 212.5 726.6 209.3 727.9 207.1Z" fill="#9dc56c" stroke="#f2f7e6" stroke-width="1.6"/>
  <path d="M691.6 210.1C693.1 208.5 697.2 205.6 699.7 205.1C702.2 204.6 704.9 205.6 706.8 207.1C708.6 208.6 708.8 213.2 710.8 214.2C712.8 215.2 716.5 212.3 718.9 213.2C721.2 214.0 723.7 216.5 724.9 219.2C726.1 221.9 724.6 226.6 725.9 229.3C727.3 232.0 731.6 232.7 733.0 235.4C734.3 238.0 734.7 242.1 734.0 245.4C733.3 248.8 730.8 252.8 729.0 255.5C727.1 258.2 725.3 261.6 722.9 261.6C720.6 261.6 717.2 256.2 714.8 255.5C712.5 254.9 711.1 257.7 708.8 257.6C706.4 257.4 702.7 256.5 700.7 254.5C698.7 252.5 698.4 248.0 696.7 245.4C695.0 242.9 691.8 242.1 690.6 239.4C689.4 236.7 688.9 232.3 689.6 229.3C690.3 226.3 694.5 223.6 694.7 221.2C694.8 218.9 691.1 217.0 690.6 215.2C690.1 213.3 690.1 211.8 691.6 210.1Z" fill="#4f9642" stroke="#f2f7e6" stroke-width="1.6"/>
  <path d="M733.0 257.6L714.8 233.3L704.7 219.2M716.9 236.4L700.7 233.3M722.9 245.4L724.9 235.4M720.9 243.4L708.8 247.5M700.7 265.6L676.5 241.4M733.0 235.4L737.0 211.1" fill="none" stroke="#e6f1d4" stroke-width="1.3" stroke-linecap="round"/>
  <path d="M634.1 316.1L664.8 281.8L679.5 297.9L712.8 259.6L730.0 275.7" fill="none" stroke="url(#gZig)" stroke-width="7.2" stroke-linejoin="miter"/>
  <path d="M782.4 214.8L754.2 224.9L763.7 232.5L755.6 241.0L761.2 245.8L768.9 237.4L776.4 243.4Z" fill="#1f6db5"/>
  <ellipse cx="748.1" cy="260.6" rx="19.4" ry="18" fill="url(#gTom)" stroke="#fbe9e2" stroke-width="1"/>
  <ellipse cx="739.1" cy="253.6" rx="3" ry="5" fill="#fff" opacity="0.55" transform="rotate(25 739.1 253.6)"/>
  <path d="M752.2 245.8L742.7 241.0L749.7 243.0L750.8 237.8L754.0 242.6L759.2 239.0L756.8 244.6L763.7 248.3L755.6 248.7L754.8 255.5L751.6 248.7L746.1 247.9Z" fill="#2e8a3e"/>
</g>


<g id="callouts">
  <g filter="url(#shB)">
    <path d="M608 411H672.5L679.8 395.5L688 411H753A9.5 9.5 0 0 1 762.5 420.5V459.8A9.5 9.5 0 0 1 753 469.3H608A9.5 9.5 0 0 1 598.5 459.8V420.5A9.5 9.5 0 0 1 608 411Z" fill="#fff" stroke="#2b5f86" stroke-width="2.6" stroke-linejoin="round"/>
  </g>
  <text class="b" x="680.5" y="451.3" font-size="32.5" text-anchor="middle" textLength="137" lengthAdjust="spacingAndGlyphs">2倍に増加</text>
  <g filter="url(#shR)">
    <path d="M1138 465.5H1337.5A10 10 0 0 1 1347.5 475.5V499.5A10 10 0 0 1 1337.5 509.5H1138A10 10 0 0 1 1128 499.5V495.5L1112.5 487.8L1128 480.5V475.5A10 10 0 0 1 1138 465.5Z" fill="#fff" stroke="#c47868" stroke-width="1.8" stroke-linejoin="round"/>
  </g>
  <text class="b" x="1238" y="495.7" font-size="23.8" text-anchor="middle" textLength="193" lengthAdjust="spacingAndGlyphs">働き盛り世代の危機</text>
</g>



<!-- SOURCE -->
<text id="src" x="24" y="750.8" font-size="17.8" font-weight="500" filter="url(#halo2)" style="font-feature-settings:'halt' 1">出典：厚生労働省「令和5年 国民健康・栄養調査」より作成。</text>
</svg>
</body>
</html>
